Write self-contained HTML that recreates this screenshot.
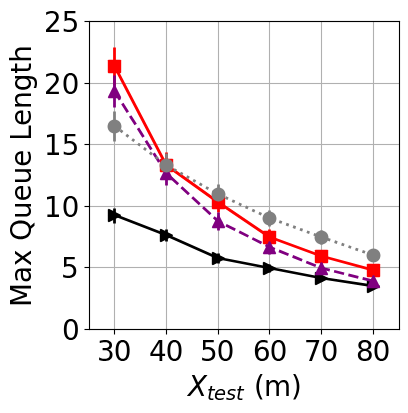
<!DOCTYPE html>
<html lang="en">
<head>
<meta charset="utf-8">
<title>Max Queue Length vs X_test (m)</title>
<style>
html,body{margin:0;padding:0;background:#fff;overflow:hidden;font-family:"Liberation Sans",sans-serif}
svg{display:block}
.sr{position:absolute;width:1px;height:1px;margin:-1px;padding:0;border:0;overflow:hidden;clip:rect(0 0 0 0);clip-path:inset(50%);white-space:nowrap}
</style>
</head>
<body>
<svg width="408" height="413" viewBox="0 0 408 413" role="img" aria-labelledby="ct cd">
<title id="ct">Max Queue Length versus X_test (m)</title>
<desc id="cd">Line chart with error bars. X axis: X_test (m), ticks 30, 40, 50, 60, 70, 80. Y axis: Max Queue Length, ticks 0, 5, 10, 15, 20, 25. Four series: red solid line with square markers, purple dashed line with up-triangle markers, gray dotted line with circle markers, black solid line with right-triangle markers. All series decrease as X_test increases.</desc>
<rect width="408" height="413" fill="#fff"/>
<g><rect x="113.944" y="21.5" width="1.111" height="308" fill="#b0b0b0"/><rect x="165.944" y="21.5" width="1.111" height="308" fill="#b0b0b0"/><rect x="217.944" y="21.5" width="1.111" height="308" fill="#b0b0b0"/><rect x="268.944" y="21.5" width="1.111" height="308" fill="#b0b0b0"/><rect x="320.944" y="21.5" width="1.111" height="308" fill="#b0b0b0"/><rect x="372.944" y="21.5" width="1.111" height="308" fill="#b0b0b0"/></g>
<g><rect x="89.5" y="328.944" width="310" height="1.111" fill="#b0b0b0"/><rect x="89.5" y="266.944" width="310" height="1.111" fill="#b0b0b0"/><rect x="89.5" y="205.944" width="310" height="1.111" fill="#b0b0b0"/><rect x="89.5" y="143.944" width="310" height="1.111" fill="#b0b0b0"/><rect x="89.5" y="82.944" width="310" height="1.111" fill="#b0b0b0"/><rect x="89.5" y="20.944" width="310" height="1.111" fill="#b0b0b0"/></g>
<g><rect x="113.944" y="329.5" width="1.111" height="5" fill="#000"/><rect x="165.944" y="329.5" width="1.111" height="5" fill="#000"/><rect x="217.944" y="329.5" width="1.111" height="5" fill="#000"/><rect x="268.944" y="329.5" width="1.111" height="5" fill="#000"/><rect x="320.944" y="329.5" width="1.111" height="5" fill="#000"/><rect x="372.944" y="329.5" width="1.111" height="5" fill="#000"/><rect x="84.5" y="328.944" width="5" height="1.111" fill="#000"/><rect x="84.5" y="266.944" width="5" height="1.111" fill="#000"/><rect x="84.5" y="205.944" width="5" height="1.111" fill="#000"/><rect x="84.5" y="143.944" width="5" height="1.111" fill="#000"/><rect x="84.5" y="82.944" width="5" height="1.111" fill="#000"/><rect x="84.5" y="20.944" width="5" height="1.111" fill="#000"/></g>
<path id="t_x30" d="M108.3 349.69L108.68 349.78L109.05 349.89L109.4 350.02L109.73 350.17L110.05 350.34L110.35 350.52L110.63 350.72L110.9 350.94L111.14 351.18L111.38 351.44L111.59 351.71L111.78 351.99L111.95 352.29L112.09 352.6L112.22 352.92L112.32 353.26L112.4 353.6L112.46 353.96L112.49 354.33L112.5 354.72L112.48 355.31L112.42 355.86L112.31 356.4L112.17 356.9L111.98 357.38L111.75 357.83L111.48 358.25L111.17 358.65L110.82 359.02L110.42 359.36L109.99 359.67L109.53 359.95L109.03 360.2L108.49 360.41L107.92 360.59L107.32 360.74L106.68 360.85L106 360.93L105.29 360.98L104.55 361L104.29 361L104.04 360.99L103.78 360.98L103.52 360.96L103.26 360.94L102.99 360.92L102.73 360.89L102.46 360.85L102.19 360.81L101.92 360.77L101.65 360.72L101.38 360.66L101.1 360.6L100.82 360.54L100.54 360.47L100.26 360.39L99.98 360.31L99.7 360.23L99.41 360.14L99.12 360.05L99.12 357.33L99.36 357.47L99.59 357.61L99.83 357.74L100.07 357.87L100.32 357.98L100.57 358.09L100.83 358.19L101.09 358.29L101.36 358.37L101.62 358.45L101.9 358.52L102.17 358.59L102.45 358.64L102.73 358.69L103.02 358.73L103.3 358.77L103.59 358.79L103.88 358.81L104.17 358.82L104.47 358.83L104.97 358.82L105.45 358.78L105.9 358.73L106.33 358.65L106.74 358.55L107.12 358.42L107.47 358.28L107.8 358.11L108.11 357.92L108.39 357.7L108.65 357.47L108.88 357.21L109.08 356.93L109.26 356.63L109.41 356.31L109.53 355.97L109.63 355.62L109.7 355.24L109.74 354.84L109.75 354.42L109.74 354.03L109.7 353.66L109.64 353.3L109.55 352.96L109.43 352.64L109.29 352.34L109.13 352.05L108.94 351.78L108.72 351.53L108.48 351.3L108.22 351.08L107.94 350.89L107.64 350.72L107.32 350.58L106.98 350.45L106.62 350.35L106.24 350.27L105.84 350.22L105.42 350.18L104.98 350.17L102.62 350.17L102.62 348L105.09 348L105.49 347.99L105.86 347.97L106.22 347.93L106.55 347.88L106.87 347.82L107.17 347.74L107.45 347.64L107.71 347.53L107.95 347.41L108.17 347.27L108.38 347.11L108.56 346.95L108.72 346.77L108.86 346.57L108.98 346.37L109.08 346.15L109.15 345.92L109.21 345.67L109.24 345.41L109.25 345.14L109.24 344.86L109.21 344.59L109.15 344.34L109.07 344.1L108.97 343.87L108.85 343.66L108.71 343.46L108.54 343.27L108.35 343.1L108.14 342.94L107.91 342.79L107.66 342.66L107.4 342.55L107.11 342.45L106.8 342.36L106.48 342.29L106.13 342.24L105.77 342.2L105.39 342.18L104.98 342.17L104.76 342.17L104.53 342.18L104.29 342.19L104.06 342.21L103.82 342.23L103.57 342.26L103.33 342.29L103.07 342.32L102.82 342.36L102.56 342.41L102.3 342.45L102.04 342.5L101.77 342.56L101.5 342.62L101.21 342.69L100.93 342.76L100.64 342.83L100.34 342.92L100.04 343L99.73 343.09L99.73 340.81L100.04 340.73L100.35 340.66L100.65 340.59L100.95 340.52L101.25 340.46L101.54 340.4L101.82 340.34L102.1 340.29L102.38 340.25L102.66 340.2L102.93 340.16L103.2 340.13L103.47 340.1L103.73 340.07L103.99 340.05L104.24 340.03L104.5 340.02L104.75 340.01L104.99 340L105.23 340L105.85 340.01L106.43 340.06L106.99 340.13L107.52 340.23L108.03 340.36L108.51 340.51L108.97 340.7L109.39 340.91L109.8 341.15L110.17 341.42L110.52 341.71L110.83 342.03L111.1 342.36L111.34 342.71L111.54 343.08L111.71 343.48L111.84 343.89L111.93 344.32L111.98 344.78L112 345.25L111.99 345.58L111.96 345.9L111.91 346.21L111.84 346.5L111.76 346.79L111.65 347.07L111.53 347.34L111.38 347.6L111.22 347.84L111.03 348.08L110.83 348.3L110.62 348.51L110.38 348.71L110.14 348.89L109.87 349.06L109.59 349.21L109.29 349.35L108.98 349.48L108.64 349.59L108.3 349.69ZM122.62 342.17L122.21 342.19L121.82 342.26L121.45 342.36L121.09 342.5L120.77 342.69L120.46 342.92L120.17 343.19L119.91 343.5L119.66 343.86L119.44 344.25L119.24 344.69L119.06 345.17L118.9 345.69L118.76 346.25L118.64 346.85L118.55 347.5L118.47 348.19L118.42 348.92L118.39 349.69L118.38 350.5L118.39 351.31L118.42 352.09L118.47 352.81L118.55 353.5L118.64 354.15L118.76 354.75L118.9 355.31L119.06 355.84L119.24 356.31L119.44 356.75L119.66 357.14L119.91 357.5L120.17 357.81L120.46 358.08L120.77 358.31L121.09 358.5L121.45 358.64L121.82 358.75L122.21 358.81L122.62 358.83L123.04 358.81L123.43 358.75L123.8 358.64L124.16 358.5L124.48 358.31L124.79 358.08L125.08 357.81L125.34 357.5L125.59 357.14L125.81 356.75L126.01 356.31L126.2 355.84L126.35 355.31L126.49 354.75L126.61 354.15L126.7 353.5L126.78 352.81L126.83 352.09L126.86 351.31L126.88 350.5L126.86 349.69L126.83 348.92L126.78 348.19L126.7 347.5L126.61 346.85L126.49 346.25L126.35 345.69L126.19 345.17L126.01 344.69L125.81 344.25L125.59 343.86L125.35 343.5L125.08 343.19L124.79 342.92L124.48 342.69L124.16 342.5L123.8 342.36L123.43 342.25L123.04 342.19L122.62 342.17ZM122.62 340L123.29 340.03L123.92 340.11L124.52 340.24L125.09 340.43L125.63 340.67L126.13 340.97L126.61 341.32L127.05 341.72L127.45 342.18L127.83 342.69L128.17 343.25L128.48 343.86L128.74 344.52L128.98 345.23L129.18 345.98L129.34 346.79L129.46 347.64L129.55 348.55L129.61 349.5L129.62 350.5L129.61 351.5L129.55 352.45L129.46 353.36L129.34 354.21L129.18 355.02L128.98 355.77L128.74 356.48L128.48 357.14L128.17 357.75L127.83 358.31L127.45 358.82L127.05 359.28L126.61 359.68L126.13 360.03L125.63 360.33L125.09 360.57L124.52 360.76L123.92 360.89L123.29 360.97L122.62 361L121.96 360.97L121.33 360.89L120.73 360.76L120.16 360.57L119.62 360.33L119.12 360.03L118.64 359.68L118.21 359.28L117.8 358.82L117.42 358.31L117.08 357.75L116.78 357.14L116.51 356.48L116.27 355.77L116.07 355.02L115.91 354.21L115.79 353.36L115.7 352.45L115.64 351.5L115.62 350.5L115.64 349.5L115.7 348.55L115.79 347.64L115.91 346.79L116.07 345.98L116.27 345.23L116.51 344.52L116.78 343.86L117.08 343.25L117.42 342.69L117.8 342.18L118.21 341.72L118.64 341.32L119.12 340.97L119.62 340.67L120.16 340.43L120.73 340.24L121.33 340.11L121.96 340.03L122.62 340Z" fill="#000"/>
<path id="t_x40" d="M159.5 342.47L152.59 353.66L159.5 353.66L159.5 342.47ZM158.78 340L162.25 340L162.25 353.66L165.12 353.66L165.12 356L162.25 356L162.25 361L159.5 361L159.5 356L150.38 356L150.38 353.28L158.78 340ZM174.5 342.17L174.09 342.19L173.69 342.26L173.32 342.36L172.97 342.5L172.64 342.69L172.33 342.92L172.05 343.19L171.78 343.5L171.54 343.86L171.31 344.25L171.11 344.69L170.93 345.17L170.77 345.69L170.63 346.25L170.52 346.85L170.42 347.5L170.35 348.19L170.29 348.92L170.26 349.69L170.25 350.5L170.26 351.31L170.29 352.09L170.35 352.81L170.42 353.5L170.52 354.15L170.63 354.75L170.77 355.31L170.93 355.84L171.11 356.31L171.31 356.75L171.54 357.14L171.78 357.5L172.05 357.81L172.33 358.08L172.64 358.31L172.97 358.5L173.32 358.64L173.69 358.75L174.09 358.81L174.5 358.83L174.91 358.81L175.31 358.75L175.68 358.64L176.03 358.5L176.36 358.31L176.67 358.08L176.95 357.81L177.22 357.5L177.46 357.14L177.69 356.75L177.89 356.31L178.07 355.84L178.23 355.31L178.37 354.75L178.48 354.15L178.58 353.5L178.65 352.81L178.71 352.09L178.74 351.31L178.75 350.5L178.74 349.69L178.71 348.92L178.65 348.19L178.58 347.5L178.48 346.85L178.37 346.25L178.23 345.69L178.07 345.17L177.89 344.69L177.69 344.25L177.46 343.86L177.22 343.5L176.95 343.19L176.67 342.92L176.36 342.69L176.03 342.5L175.68 342.36L175.31 342.25L174.91 342.19L174.5 342.17ZM174.5 340L175.17 340.03L175.8 340.11L176.4 340.24L176.97 340.43L177.5 340.67L178.01 340.97L178.48 341.32L178.92 341.72L179.33 342.18L179.7 342.69L180.04 343.25L180.35 343.86L180.62 344.52L180.85 345.23L181.05 345.98L181.21 346.79L181.34 347.64L181.43 348.55L181.48 349.5L181.5 350.5L181.48 351.5L181.43 352.45L181.34 353.36L181.21 354.21L181.05 355.02L180.85 355.77L180.62 356.48L180.35 357.14L180.04 357.75L179.7 358.31L179.33 358.82L178.92 359.28L178.48 359.68L178.01 360.03L177.5 360.33L176.97 360.57L176.4 360.76L175.8 360.89L175.17 360.97L174.5 361L173.83 360.97L173.2 360.89L172.6 360.76L172.03 360.57L171.5 360.33L170.99 360.03L170.52 359.68L170.08 359.28L169.67 358.82L169.3 358.31L168.96 357.75L168.65 357.14L168.38 356.48L168.15 355.77L167.95 355.02L167.79 354.21L167.66 353.36L167.57 352.45L167.52 351.5L167.5 350.5L167.52 349.5L167.57 348.55L167.66 347.64L167.79 346.79L167.95 345.98L168.15 345.23L168.38 344.52L168.65 343.86L168.96 343.25L169.3 342.69L169.67 342.18L170.08 341.72L170.52 341.32L170.99 340.97L171.5 340.67L172.03 340.43L172.6 340.24L173.2 340.11L173.83 340.03L174.5 340Z" fill="#000"/>
<path id="t_x50" d="M203 340L213.75 340L213.75 342.17L205.5 342.17L205.5 347.39L205.62 347.35L205.74 347.32L205.86 347.29L205.98 347.26L206.09 347.23L206.21 347.2L206.33 347.17L206.45 347.15L206.57 347.13L206.69 347.11L206.81 347.09L206.93 347.07L207.05 347.05L207.17 347.04L207.29 347.03L207.41 347.02L207.53 347.01L207.65 347L207.77 347L207.89 347L208.55 347.02L209.19 347.08L209.8 347.17L210.38 347.3L210.93 347.47L211.45 347.68L211.95 347.93L212.42 348.21L212.85 348.53L213.27 348.89L213.64 349.28L213.98 349.7L214.28 350.14L214.54 350.62L214.75 351.11L214.93 351.64L215.07 352.19L215.17 352.77L215.23 353.37L215.25 354L215.23 354.65L215.17 355.27L215.07 355.86L214.92 356.43L214.74 356.96L214.51 357.46L214.25 357.93L213.94 358.38L213.59 358.79L213.2 359.17L212.78 359.52L212.32 359.83L211.83 360.1L211.31 360.34L210.75 360.54L210.16 360.71L209.54 360.84L208.88 360.93L208.19 360.98L207.47 361L207.21 361L206.95 360.99L206.7 360.98L206.44 360.97L206.18 360.95L205.91 360.93L205.65 360.9L205.39 360.87L205.12 360.84L204.86 360.8L204.6 360.75L204.33 360.71L204.06 360.66L203.79 360.6L203.52 360.54L203.25 360.48L202.97 360.41L202.69 360.34L202.41 360.27L202.12 360.19L202.12 357.44L202.37 357.57L202.62 357.7L202.86 357.83L203.11 357.94L203.36 358.05L203.62 358.15L203.87 358.25L204.12 358.33L204.38 358.41L204.64 358.48L204.9 358.55L205.17 358.61L205.44 358.66L205.71 358.7L205.99 358.74L206.27 358.77L206.55 358.8L206.83 358.81L207.12 358.82L207.41 358.83L207.87 358.82L208.31 358.78L208.73 358.71L209.13 358.62L209.52 358.5L209.88 358.36L210.22 358.19L210.54 358L210.84 357.78L211.12 357.53L211.39 357.26L211.62 356.98L211.83 356.67L212 356.35L212.16 356L212.28 355.64L212.38 355.26L212.44 354.87L212.49 354.45L212.5 354.02L212.49 353.58L212.45 353.15L212.38 352.75L212.28 352.37L212.16 352L212.01 351.66L211.83 351.33L211.62 351.03L211.39 350.74L211.12 350.47L210.84 350.22L210.54 350L210.22 349.81L209.88 349.64L209.52 349.5L209.14 349.38L208.74 349.29L208.32 349.22L207.88 349.18L207.42 349.17L207.2 349.17L206.98 349.18L206.77 349.2L206.55 349.21L206.33 349.24L206.11 349.27L205.89 349.3L205.67 349.34L205.45 349.39L205.23 349.44L205.02 349.49L204.8 349.55L204.57 349.61L204.35 349.69L204.13 349.76L203.91 349.84L203.68 349.93L203.45 350.03L203.23 350.13L203 350.23L203 340ZM225.5 342.17L225.09 342.19L224.69 342.26L224.32 342.36L223.97 342.5L223.64 342.69L223.33 342.92L223.05 343.19L222.78 343.5L222.54 343.86L222.31 344.25L222.11 344.69L221.93 345.17L221.77 345.69L221.63 346.25L221.52 346.85L221.42 347.5L221.35 348.19L221.29 348.92L221.26 349.69L221.25 350.5L221.26 351.31L221.29 352.09L221.35 352.81L221.42 353.5L221.52 354.15L221.63 354.75L221.77 355.31L221.93 355.84L222.11 356.31L222.31 356.75L222.54 357.14L222.78 357.5L223.05 357.81L223.33 358.08L223.64 358.31L223.97 358.5L224.32 358.64L224.69 358.75L225.09 358.81L225.5 358.83L225.91 358.81L226.31 358.75L226.68 358.64L227.03 358.5L227.36 358.31L227.67 358.08L227.95 357.81L228.22 357.5L228.46 357.14L228.69 356.75L228.89 356.31L229.07 355.84L229.23 355.31L229.37 354.75L229.48 354.15L229.58 353.5L229.65 352.81L229.71 352.09L229.74 351.31L229.75 350.5L229.74 349.69L229.71 348.92L229.65 348.19L229.58 347.5L229.48 346.85L229.37 346.25L229.23 345.69L229.07 345.17L228.89 344.69L228.69 344.25L228.46 343.86L228.22 343.5L227.95 343.19L227.67 342.92L227.36 342.69L227.03 342.5L226.68 342.36L226.31 342.25L225.91 342.19L225.5 342.17ZM225.5 340L226.17 340.03L226.8 340.11L227.4 340.24L227.97 340.43L228.5 340.67L229.01 340.97L229.48 341.32L229.92 341.72L230.33 342.18L230.7 342.69L231.04 343.25L231.35 343.86L231.62 344.52L231.85 345.23L232.05 345.98L232.21 346.79L232.34 347.64L232.43 348.55L232.48 349.5L232.5 350.5L232.48 351.5L232.43 352.45L232.34 353.36L232.21 354.21L232.05 355.02L231.85 355.77L231.62 356.48L231.35 357.14L231.04 357.75L230.7 358.31L230.33 358.82L229.92 359.28L229.48 359.68L229.01 360.03L228.5 360.33L227.97 360.57L227.4 360.76L226.8 360.89L226.17 360.97L225.5 361L224.83 360.97L224.2 360.89L223.6 360.76L223.03 360.57L222.5 360.33L221.99 360.03L221.52 359.68L221.08 359.28L220.67 358.82L220.3 358.31L219.96 357.75L219.65 357.14L219.38 356.48L219.15 355.77L218.95 355.02L218.79 354.21L218.66 353.36L218.57 352.45L218.52 351.5L218.5 350.5L218.52 349.5L218.57 348.55L218.66 347.64L218.79 346.79L218.95 345.98L219.15 345.23L219.38 344.52L219.65 343.86L219.96 343.25L220.3 342.69L220.67 342.18L221.08 341.72L221.52 341.32L221.99 340.97L222.5 340.67L223.03 340.43L223.6 340.24L224.2 340.11L224.83 340.03L225.5 340Z" fill="#000"/>
<path id="t_x60" d="M262.14 349L261.78 349.01L261.43 349.05L261.1 349.12L260.79 349.21L260.49 349.33L260.2 349.47L259.93 349.64L259.68 349.84L259.44 350.06L259.22 350.31L259.02 350.58L258.84 350.88L258.68 351.19L258.54 351.52L258.42 351.87L258.33 352.24L258.25 352.63L258.2 353.04L258.17 353.47L258.16 353.92L258.17 354.37L258.2 354.79L258.25 355.2L258.33 355.58L258.42 355.95L258.54 356.3L258.68 356.63L258.84 356.95L259.02 357.24L259.22 357.52L259.44 357.77L259.68 357.99L259.93 358.18L260.2 358.36L260.49 358.5L260.79 358.62L261.1 358.71L261.43 358.78L261.78 358.81L262.14 358.83L262.5 358.82L262.85 358.78L263.18 358.71L263.49 358.62L263.79 358.5L264.07 358.36L264.34 358.19L264.59 357.99L264.83 357.76L265.05 357.52L265.25 357.24L265.44 356.95L265.6 356.63L265.74 356.3L265.86 355.95L265.95 355.58L266.03 355.2L266.08 354.79L266.11 354.37L266.12 353.92L266.11 353.47L266.08 353.04L266.03 352.63L265.95 352.24L265.86 351.87L265.74 351.52L265.6 351.19L265.44 350.88L265.25 350.58L265.05 350.31L264.83 350.06L264.59 349.84L264.34 349.64L264.07 349.47L263.79 349.33L263.49 349.21L263.18 349.12L262.85 349.05L262.5 349.01L262.14 349ZM267.56 340.77L267.56 343.12L267.35 343.03L267.14 342.95L266.93 342.86L266.72 342.79L266.51 342.71L266.3 342.65L266.09 342.58L265.88 342.52L265.67 342.47L265.45 342.42L265.24 342.37L265.03 342.33L264.82 342.29L264.62 342.26L264.41 342.23L264.2 342.21L263.99 342.19L263.78 342.18L263.57 342.17L263.36 342.17L262.83 342.19L262.32 342.24L261.84 342.33L261.38 342.45L260.95 342.61L260.55 342.81L260.17 343.04L259.81 343.3L259.49 343.6L259.19 343.94L258.91 344.31L258.67 344.72L258.45 345.16L258.27 345.64L258.11 346.16L257.98 346.71L257.88 347.3L257.81 347.92L257.76 348.58L257.75 349.28L257.91 349.05L258.08 348.83L258.26 348.62L258.45 348.42L258.64 348.23L258.85 348.06L259.06 347.89L259.27 347.74L259.5 347.6L259.73 347.47L259.97 347.35L260.22 347.24L260.47 347.14L260.72 347.06L260.98 346.99L261.25 346.93L261.52 346.89L261.79 346.85L262.07 346.83L262.36 346.83L262.95 346.85L263.52 346.9L264.05 347L264.57 347.13L265.06 347.3L265.52 347.51L265.96 347.76L266.37 348.05L266.76 348.37L267.12 348.73L267.46 349.13L267.76 349.55L268.02 350L268.25 350.48L268.44 350.98L268.6 351.52L268.72 352.08L268.81 352.66L268.86 353.28L268.88 353.92L268.86 354.55L268.8 355.15L268.71 355.73L268.58 356.28L268.41 356.81L268.21 357.31L267.97 357.79L267.7 358.24L267.38 358.66L267.03 359.06L266.65 359.43L266.24 359.76L265.81 360.05L265.36 360.3L264.88 360.52L264.37 360.69L263.85 360.83L263.29 360.92L262.71 360.98L262.11 361L261.42 360.97L260.77 360.89L260.15 360.76L259.56 360.57L259.01 360.33L258.49 360.03L258 359.68L257.54 359.28L257.12 358.82L256.73 358.31L256.38 357.75L256.07 357.14L255.79 356.48L255.54 355.77L255.34 355.02L255.17 354.21L255.04 353.36L254.95 352.45L254.89 351.5L254.88 350.5L254.9 349.56L254.97 348.66L255.08 347.8L255.24 346.98L255.45 346.19L255.7 345.45L255.99 344.74L256.34 344.08L256.72 343.45L257.16 342.86L257.63 342.32L258.13 341.83L258.67 341.4L259.23 341.03L259.83 340.71L260.46 340.46L261.12 340.26L261.81 340.11L262.53 340.03L263.28 340L263.49 340L263.69 340.01L263.9 340.02L264.11 340.03L264.32 340.05L264.52 340.07L264.73 340.09L264.94 340.12L265.15 340.15L265.36 340.19L265.57 340.23L265.79 340.27L266 340.32L266.22 340.37L266.44 340.43L266.66 340.49L266.89 340.55L267.11 340.62L267.34 340.69L267.56 340.77ZM278.5 342.17L278.09 342.19L277.69 342.26L277.32 342.36L276.97 342.5L276.64 342.69L276.33 342.92L276.05 343.19L275.78 343.5L275.54 343.86L275.31 344.25L275.11 344.69L274.93 345.17L274.77 345.69L274.63 346.25L274.52 346.85L274.42 347.5L274.35 348.19L274.29 348.92L274.26 349.69L274.25 350.5L274.26 351.31L274.29 352.09L274.35 352.81L274.42 353.5L274.52 354.15L274.63 354.75L274.77 355.31L274.93 355.84L275.11 356.31L275.31 356.75L275.54 357.14L275.78 357.5L276.05 357.81L276.33 358.08L276.64 358.31L276.97 358.5L277.32 358.64L277.69 358.75L278.09 358.81L278.5 358.83L278.91 358.81L279.31 358.75L279.68 358.64L280.03 358.5L280.36 358.31L280.67 358.08L280.95 357.81L281.22 357.5L281.46 357.14L281.69 356.75L281.89 356.31L282.07 355.84L282.23 355.31L282.37 354.75L282.48 354.15L282.58 353.5L282.65 352.81L282.71 352.09L282.74 351.31L282.75 350.5L282.74 349.69L282.71 348.92L282.65 348.19L282.58 347.5L282.48 346.85L282.37 346.25L282.23 345.69L282.07 345.17L281.89 344.69L281.69 344.25L281.46 343.86L281.22 343.5L280.95 343.19L280.67 342.92L280.36 342.69L280.03 342.5L279.68 342.36L279.31 342.25L278.91 342.19L278.5 342.17ZM278.5 340L279.17 340.03L279.8 340.11L280.4 340.24L280.97 340.43L281.5 340.67L282.01 340.97L282.48 341.32L282.92 341.72L283.33 342.18L283.7 342.69L284.04 343.25L284.35 343.86L284.62 344.52L284.85 345.23L285.05 345.98L285.21 346.79L285.34 347.64L285.43 348.55L285.48 349.5L285.5 350.5L285.48 351.5L285.43 352.45L285.34 353.36L285.21 354.21L285.05 355.02L284.85 355.77L284.62 356.48L284.35 357.14L284.04 357.75L283.7 358.31L283.33 358.82L282.92 359.28L282.48 359.68L282.01 360.03L281.5 360.33L280.97 360.57L280.4 360.76L279.8 360.89L279.17 360.97L278.5 361L277.83 360.97L277.2 360.89L276.6 360.76L276.03 360.57L275.5 360.33L274.99 360.03L274.52 359.68L274.08 359.28L273.67 358.82L273.3 358.31L272.96 357.75L272.65 357.14L272.38 356.48L272.15 355.77L271.95 355.02L271.79 354.21L271.66 353.36L271.57 352.45L271.52 351.5L271.5 350.5L271.52 349.5L271.57 348.55L271.66 347.64L271.79 346.79L271.95 345.98L272.15 345.23L272.38 344.52L272.65 343.86L272.96 343.25L273.3 342.69L273.67 342.18L274.08 341.72L274.52 341.32L274.99 340.97L275.5 340.67L276.03 340.43L276.6 340.24L277.2 340.11L277.83 340.03L278.5 340Z" fill="#000"/>
<path id="t_x70" d="M306.25 340L319.25 340L319.25 341.09L311.91 361L309.05 361L315.95 342.17L306.25 342.17L306.25 340ZM329.5 342.17L329.09 342.19L328.69 342.26L328.32 342.36L327.97 342.5L327.64 342.69L327.33 342.92L327.05 343.19L326.78 343.5L326.54 343.86L326.31 344.25L326.11 344.69L325.93 345.17L325.77 345.69L325.63 346.25L325.52 346.85L325.42 347.5L325.35 348.19L325.29 348.92L325.26 349.69L325.25 350.5L325.26 351.31L325.29 352.09L325.35 352.81L325.42 353.5L325.52 354.15L325.63 354.75L325.77 355.31L325.93 355.84L326.11 356.31L326.31 356.75L326.54 357.14L326.78 357.5L327.05 357.81L327.33 358.08L327.64 358.31L327.97 358.5L328.32 358.64L328.69 358.75L329.09 358.81L329.5 358.83L329.91 358.81L330.31 358.75L330.68 358.64L331.03 358.5L331.36 358.31L331.67 358.08L331.95 357.81L332.22 357.5L332.46 357.14L332.69 356.75L332.89 356.31L333.07 355.84L333.23 355.31L333.37 354.75L333.48 354.15L333.58 353.5L333.65 352.81L333.71 352.09L333.74 351.31L333.75 350.5L333.74 349.69L333.71 348.92L333.65 348.19L333.58 347.5L333.48 346.85L333.37 346.25L333.23 345.69L333.07 345.17L332.89 344.69L332.69 344.25L332.46 343.86L332.22 343.5L331.95 343.19L331.67 342.92L331.36 342.69L331.03 342.5L330.68 342.36L330.31 342.25L329.91 342.19L329.5 342.17ZM329.5 340L330.17 340.03L330.8 340.11L331.4 340.24L331.97 340.43L332.5 340.67L333.01 340.97L333.48 341.32L333.92 341.72L334.33 342.18L334.7 342.69L335.04 343.25L335.35 343.86L335.62 344.52L335.85 345.23L336.05 345.98L336.21 346.79L336.34 347.64L336.43 348.55L336.48 349.5L336.5 350.5L336.48 351.5L336.43 352.45L336.34 353.36L336.21 354.21L336.05 355.02L335.85 355.77L335.62 356.48L335.35 357.14L335.04 357.75L334.7 358.31L334.33 358.82L333.92 359.28L333.48 359.68L333.01 360.03L332.5 360.33L331.97 360.57L331.4 360.76L330.8 360.89L330.17 360.97L329.5 361L328.83 360.97L328.2 360.89L327.6 360.76L327.03 360.57L326.5 360.33L325.99 360.03L325.52 359.68L325.08 359.28L324.67 358.82L324.3 358.31L323.96 357.75L323.65 357.14L323.38 356.48L323.15 355.77L322.95 355.02L322.79 354.21L322.66 353.36L322.57 352.45L322.52 351.5L322.5 350.5L322.52 349.5L322.57 348.55L322.66 347.64L322.79 346.79L322.95 345.98L323.15 345.23L323.38 344.52L323.65 343.86L323.96 343.25L324.3 342.69L324.67 342.18L325.08 341.72L325.52 341.32L325.99 340.97L326.5 340.67L327.03 340.43L327.6 340.24L328.2 340.11L328.83 340.03L329.5 340Z" fill="#000"/>
<path id="t_x80" d="M364.81 351L364.43 351.01L364.06 351.04L363.72 351.09L363.38 351.17L363.07 351.26L362.77 351.38L362.48 351.51L362.22 351.67L361.97 351.85L361.73 352.05L361.52 352.26L361.34 352.5L361.17 352.74L361.02 353.01L360.9 353.29L360.8 353.58L360.72 353.89L360.67 354.21L360.64 354.55L360.62 354.91L360.64 355.27L360.67 355.61L360.72 355.94L360.8 356.25L360.9 356.55L361.02 356.83L361.17 357.1L361.34 357.35L361.52 357.58L361.73 357.8L361.97 357.99L362.22 358.17L362.48 358.32L362.77 358.46L363.07 358.57L363.38 358.66L363.72 358.74L364.06 358.79L364.43 358.82L364.81 358.83L365.19 358.82L365.56 358.79L365.9 358.73L366.23 358.66L366.55 358.57L366.85 358.45L367.13 358.32L367.39 358.16L367.64 357.98L367.88 357.78L368.09 357.56L368.28 357.33L368.45 357.08L368.6 356.82L368.72 356.54L368.82 356.24L368.9 355.93L368.96 355.61L368.99 355.26L369 354.91L368.99 354.55L368.96 354.21L368.9 353.89L368.82 353.58L368.72 353.29L368.6 353.01L368.45 352.74L368.28 352.5L368.09 352.26L367.88 352.05L367.64 351.85L367.4 351.67L367.13 351.51L366.85 351.38L366.55 351.26L366.24 351.17L365.91 351.09L365.56 351.04L365.19 351.01L364.81 351ZM362.11 349.83L361.76 349.73L361.43 349.62L361.12 349.5L360.82 349.36L360.54 349.2L360.27 349.03L360.02 348.84L359.78 348.64L359.56 348.42L359.36 348.19L359.17 347.94L359.01 347.68L358.86 347.41L358.73 347.13L358.62 346.84L358.53 346.55L358.46 346.24L358.41 345.92L358.38 345.59L358.38 345.25L358.39 344.77L358.44 344.32L358.53 343.88L358.65 343.46L358.8 343.07L358.99 342.7L359.22 342.34L359.48 342.01L359.77 341.7L360.09 341.41L360.45 341.14L360.83 340.9L361.24 340.69L361.67 340.51L362.13 340.35L362.62 340.23L363.13 340.13L363.66 340.06L364.23 340.01L364.81 340L365.4 340.01L365.97 340.06L366.5 340.13L367.01 340.22L367.5 340.35L367.96 340.51L368.39 340.69L368.8 340.9L369.18 341.14L369.53 341.41L369.86 341.7L370.15 342.01L370.41 342.34L370.63 342.69L370.82 343.07L370.98 343.46L371.1 343.87L371.18 344.31L371.23 344.76L371.25 345.23L371.24 345.58L371.21 345.91L371.16 346.23L371.09 346.54L371 346.84L370.9 347.13L370.77 347.41L370.62 347.68L370.45 347.94L370.27 348.19L370.06 348.42L369.84 348.64L369.6 348.84L369.35 349.03L369.09 349.2L368.8 349.36L368.5 349.5L368.19 349.62L367.86 349.73L367.52 349.83L367.91 349.93L368.28 350.05L368.64 350.18L368.97 350.33L369.29 350.5L369.6 350.69L369.88 350.9L370.15 351.12L370.39 351.37L370.62 351.62L370.84 351.9L371.03 352.19L371.2 352.48L371.35 352.8L371.47 353.12L371.57 353.45L371.65 353.8L371.71 354.16L371.74 354.52L371.75 354.91L371.73 355.48L371.68 356.03L371.59 356.55L371.46 357.05L371.3 357.52L371.1 357.95L370.87 358.37L370.6 358.75L370.29 359.11L369.95 359.44L369.58 359.73L369.17 360L368.74 360.23L368.27 360.44L367.77 360.61L367.24 360.75L366.68 360.86L366.09 360.94L365.47 360.98L364.81 361L364.16 360.98L363.54 360.94L362.95 360.86L362.38 360.75L361.86 360.61L361.36 360.44L360.89 360.23L360.45 360L360.05 359.73L359.67 359.44L359.33 359.11L359.03 358.75L358.76 358.37L358.52 357.95L358.32 357.52L358.16 357.05L358.04 356.55L357.95 356.03L357.89 355.48L357.88 354.91L357.89 354.53L357.92 354.16L357.98 353.81L358.06 353.46L358.16 353.13L358.28 352.81L358.43 352.5L358.6 352.2L358.79 351.92L359 351.64L359.23 351.38L359.48 351.13L359.75 350.91L360.04 350.7L360.34 350.51L360.66 350.34L361 350.18L361.35 350.05L361.72 349.93L362.11 349.83ZM361.12 345.5L361.13 345.81L361.16 346.1L361.21 346.38L361.28 346.64L361.37 346.89L361.47 347.13L361.6 347.36L361.75 347.57L361.91 347.77L362.09 347.95L362.3 348.12L362.51 348.27L362.75 348.4L362.99 348.51L363.26 348.61L363.54 348.69L363.83 348.75L364.14 348.79L364.47 348.82L364.81 348.83L365.15 348.82L365.48 348.79L365.78 348.75L366.08 348.69L366.36 348.61L366.62 348.51L366.87 348.4L367.1 348.27L367.31 348.12L367.52 347.95L367.7 347.77L367.87 347.57L368.02 347.36L368.15 347.13L368.25 346.89L368.34 346.64L368.41 346.38L368.46 346.1L368.49 345.81L368.5 345.5L368.49 345.19L368.46 344.9L368.41 344.62L368.34 344.36L368.25 344.11L368.15 343.87L368.02 343.65L367.87 343.44L367.7 343.24L367.52 343.06L367.31 342.89L367.1 342.74L366.87 342.61L366.62 342.49L366.36 342.39L366.08 342.31L365.78 342.25L365.48 342.21L365.15 342.18L364.81 342.17L364.47 342.18L364.14 342.21L363.83 342.25L363.54 342.31L363.26 342.39L362.99 342.49L362.75 342.61L362.51 342.74L362.3 342.89L362.09 343.06L361.91 343.24L361.75 343.44L361.6 343.65L361.47 343.87L361.37 344.11L361.28 344.36L361.21 344.62L361.16 344.9L361.13 345.19L361.12 345.5ZM381.5 342.17L381.09 342.19L380.69 342.26L380.32 342.36L379.97 342.5L379.64 342.69L379.33 342.92L379.05 343.19L378.78 343.5L378.54 343.86L378.31 344.25L378.11 344.69L377.93 345.17L377.77 345.69L377.63 346.25L377.52 346.85L377.42 347.5L377.35 348.19L377.29 348.92L377.26 349.69L377.25 350.5L377.26 351.31L377.29 352.09L377.35 352.81L377.42 353.5L377.52 354.15L377.63 354.75L377.77 355.31L377.93 355.84L378.11 356.31L378.31 356.75L378.54 357.14L378.78 357.5L379.05 357.81L379.33 358.08L379.64 358.31L379.97 358.5L380.32 358.64L380.69 358.75L381.09 358.81L381.5 358.83L381.91 358.81L382.31 358.75L382.68 358.64L383.03 358.5L383.36 358.31L383.67 358.08L383.95 357.81L384.22 357.5L384.46 357.14L384.69 356.75L384.89 356.31L385.07 355.84L385.23 355.31L385.37 354.75L385.48 354.15L385.58 353.5L385.65 352.81L385.71 352.09L385.74 351.31L385.75 350.5L385.74 349.69L385.71 348.92L385.65 348.19L385.58 347.5L385.48 346.85L385.37 346.25L385.23 345.69L385.07 345.17L384.89 344.69L384.69 344.25L384.46 343.86L384.22 343.5L383.95 343.19L383.67 342.92L383.36 342.69L383.03 342.5L382.68 342.36L382.31 342.25L381.91 342.19L381.5 342.17ZM381.5 340L382.17 340.03L382.8 340.11L383.4 340.24L383.97 340.43L384.5 340.67L385.01 340.97L385.48 341.32L385.92 341.72L386.33 342.18L386.7 342.69L387.04 343.25L387.35 343.86L387.62 344.52L387.85 345.23L388.05 345.98L388.21 346.79L388.34 347.64L388.43 348.55L388.48 349.5L388.5 350.5L388.48 351.5L388.43 352.45L388.34 353.36L388.21 354.21L388.05 355.02L387.85 355.77L387.62 356.48L387.35 357.14L387.04 357.75L386.7 358.31L386.33 358.82L385.92 359.28L385.48 359.68L385.01 360.03L384.5 360.33L383.97 360.57L383.4 360.76L382.8 360.89L382.17 360.97L381.5 361L380.83 360.97L380.2 360.89L379.6 360.76L379.03 360.57L378.5 360.33L377.99 360.03L377.52 359.68L377.08 359.28L376.67 358.82L376.3 358.31L375.96 357.75L375.65 357.14L375.38 356.48L375.15 355.77L374.95 355.02L374.79 354.21L374.66 353.36L374.57 352.45L374.52 351.5L374.5 350.5L374.52 349.5L374.57 348.55L374.66 347.64L374.79 346.79L374.95 345.98L375.15 345.23L375.38 344.52L375.65 343.86L375.96 343.25L376.3 342.69L376.67 342.18L377.08 341.72L377.52 341.32L377.99 340.97L378.5 340.67L379.03 340.43L379.6 340.24L380.2 340.11L380.83 340.03L381.5 340Z" fill="#000"/>
<path id="t_y0" d="M70.88 321.17L70.46 321.19L70.07 321.26L69.7 321.36L69.34 321.5L69.02 321.69L68.71 321.92L68.42 322.19L68.16 322.5L67.91 322.86L67.69 323.25L67.49 323.69L67.31 324.17L67.15 324.69L67.01 325.25L66.89 325.85L66.8 326.5L66.72 327.19L66.67 327.92L66.64 328.69L66.62 329.5L66.64 330.31L66.67 331.09L66.72 331.81L66.8 332.5L66.89 333.15L67.01 333.75L67.15 334.31L67.31 334.84L67.49 335.31L67.69 335.75L67.91 336.14L68.16 336.5L68.42 336.81L68.71 337.08L69.02 337.31L69.34 337.5L69.7 337.64L70.07 337.75L70.46 337.81L70.88 337.83L71.29 337.81L71.68 337.75L72.05 337.64L72.41 337.5L72.73 337.31L73.04 337.08L73.33 336.81L73.59 336.5L73.84 336.14L74.06 335.75L74.26 335.31L74.45 334.84L74.6 334.31L74.74 333.75L74.86 333.15L74.95 332.5L75.03 331.81L75.08 331.09L75.11 330.31L75.12 329.5L75.11 328.69L75.08 327.92L75.03 327.19L74.95 326.5L74.86 325.85L74.74 325.25L74.6 324.69L74.44 324.17L74.26 323.69L74.06 323.25L73.84 322.86L73.59 322.5L73.33 322.19L73.04 321.92L72.73 321.69L72.41 321.5L72.05 321.36L71.68 321.25L71.29 321.19L70.88 321.17ZM70.88 319L71.54 319.03L72.17 319.11L72.77 319.24L73.34 319.43L73.88 319.67L74.38 319.97L74.86 320.32L75.3 320.72L75.7 321.18L76.08 321.69L76.42 322.25L76.73 322.86L76.99 323.52L77.23 324.23L77.43 324.98L77.59 325.79L77.71 326.64L77.8 327.55L77.86 328.5L77.88 329.5L77.86 330.5L77.8 331.45L77.71 332.36L77.59 333.21L77.43 334.02L77.23 334.77L76.99 335.48L76.73 336.14L76.42 336.75L76.08 337.31L75.7 337.82L75.3 338.28L74.86 338.68L74.38 339.03L73.88 339.33L73.34 339.57L72.77 339.76L72.17 339.89L71.54 339.97L70.88 340L70.21 339.97L69.58 339.89L68.98 339.76L68.41 339.57L67.87 339.33L67.37 339.03L66.89 338.68L66.45 338.28L66.05 337.82L65.67 337.31L65.33 336.75L65.03 336.14L64.76 335.48L64.52 334.77L64.32 334.02L64.16 333.21L64.04 332.36L63.95 331.45L63.89 330.5L63.88 329.5L63.89 328.5L63.95 327.55L64.04 326.64L64.16 325.79L64.32 324.98L64.52 324.23L64.76 323.52L65.03 322.86L65.33 322.25L65.67 321.69L66.05 321.18L66.46 320.72L66.89 320.32L67.37 319.97L67.87 319.67L68.41 319.43L68.98 319.24L69.58 319.11L70.21 319.03L70.88 319Z" fill="#000"/>
<path id="t_y5" d="M64 257L74.75 257L74.75 259.17L66.5 259.17L66.5 264.39L66.62 264.35L66.74 264.32L66.86 264.29L66.97 264.26L67.09 264.23L67.21 264.2L67.33 264.17L67.45 264.15L67.57 264.13L67.69 264.11L67.81 264.09L67.93 264.07L68.05 264.05L68.17 264.04L68.29 264.03L68.41 264.02L68.53 264.01L68.65 264L68.77 264L68.89 264L69.55 264.02L70.19 264.08L70.8 264.17L71.38 264.3L71.93 264.47L72.45 264.68L72.95 264.93L73.42 265.21L73.85 265.53L74.27 265.89L74.64 266.28L74.98 266.7L75.28 267.14L75.54 267.62L75.75 268.11L75.93 268.64L76.07 269.19L76.17 269.77L76.23 270.37L76.25 271L76.23 271.65L76.17 272.27L76.07 272.86L75.92 273.43L75.74 273.96L75.51 274.46L75.25 274.93L74.94 275.38L74.59 275.79L74.2 276.17L73.78 276.52L73.32 276.83L72.83 277.1L72.31 277.34L71.75 277.54L71.16 277.71L70.54 277.84L69.88 277.93L69.19 277.98L68.47 278L68.21 278L67.95 277.99L67.7 277.98L67.44 277.97L67.18 277.95L66.91 277.93L66.65 277.9L66.39 277.87L66.12 277.84L65.86 277.8L65.6 277.75L65.33 277.71L65.06 277.66L64.79 277.6L64.52 277.54L64.25 277.48L63.97 277.41L63.69 277.34L63.41 277.27L63.12 277.19L63.12 274.44L63.37 274.57L63.62 274.7L63.86 274.83L64.11 274.94L64.36 275.05L64.62 275.15L64.87 275.25L65.12 275.33L65.38 275.41L65.64 275.48L65.9 275.55L66.17 275.61L66.44 275.66L66.71 275.7L66.99 275.74L67.27 275.77L67.55 275.8L67.83 275.81L68.12 275.82L68.41 275.83L68.87 275.82L69.31 275.78L69.73 275.71L70.13 275.62L70.52 275.5L70.88 275.36L71.22 275.19L71.54 275L71.84 274.78L72.12 274.53L72.39 274.26L72.62 273.98L72.83 273.67L73.01 273.35L73.16 273L73.28 272.64L73.38 272.26L73.44 271.87L73.49 271.45L73.5 271.02L73.49 270.58L73.45 270.15L73.38 269.75L73.28 269.37L73.16 269L73 268.66L72.83 268.33L72.62 268.03L72.39 267.74L72.12 267.47L71.84 267.22L71.54 267L71.22 266.81L70.88 266.64L70.52 266.5L70.14 266.38L69.74 266.29L69.32 266.22L68.88 266.18L68.42 266.17L68.2 266.17L67.98 266.18L67.77 266.2L67.55 266.21L67.33 266.24L67.11 266.27L66.89 266.3L66.67 266.34L66.45 266.39L66.23 266.44L66.02 266.49L65.8 266.55L65.57 266.61L65.35 266.69L65.13 266.76L64.91 266.84L64.68 266.93L64.45 267.03L64.23 267.13L64 267.23L64 257Z" fill="#000"/>
<path id="t_y10" d="M47.38 214.62L51.88 214.62L51.88 198.59L47 199.61L47 197.02L51.84 196L54.62 196L54.62 214.62L59 214.62L59 217L47.38 217L47.38 214.62ZM70.5 198.17L70.09 198.19L69.69 198.26L69.32 198.36L68.97 198.5L68.64 198.69L68.33 198.92L68.05 199.19L67.78 199.5L67.54 199.86L67.31 200.25L67.11 200.69L66.93 201.17L66.77 201.69L66.63 202.25L66.52 202.85L66.42 203.5L66.35 204.19L66.29 204.92L66.26 205.69L66.25 206.5L66.26 207.31L66.29 208.09L66.35 208.81L66.42 209.5L66.52 210.15L66.63 210.75L66.77 211.31L66.93 211.84L67.11 212.31L67.31 212.75L67.54 213.14L67.78 213.5L68.05 213.81L68.33 214.08L68.64 214.31L68.97 214.5L69.32 214.64L69.69 214.75L70.09 214.81L70.5 214.83L70.91 214.81L71.31 214.75L71.68 214.64L72.03 214.5L72.36 214.31L72.67 214.08L72.95 213.81L73.22 213.5L73.46 213.14L73.69 212.75L73.89 212.31L74.07 211.84L74.23 211.31L74.37 210.75L74.48 210.15L74.58 209.5L74.65 208.81L74.71 208.09L74.74 207.31L74.75 206.5L74.74 205.69L74.71 204.92L74.65 204.19L74.58 203.5L74.48 202.85L74.37 202.25L74.23 201.69L74.07 201.17L73.89 200.69L73.69 200.25L73.46 199.86L73.22 199.5L72.95 199.19L72.67 198.92L72.36 198.69L72.03 198.5L71.68 198.36L71.31 198.25L70.91 198.19L70.5 198.17ZM70.5 196L71.17 196.03L71.8 196.11L72.4 196.24L72.97 196.43L73.5 196.67L74.01 196.97L74.48 197.32L74.92 197.72L75.33 198.18L75.7 198.69L76.04 199.25L76.35 199.86L76.62 200.52L76.85 201.23L77.05 201.98L77.21 202.79L77.34 203.64L77.43 204.55L77.48 205.5L77.5 206.5L77.48 207.5L77.43 208.45L77.34 209.36L77.21 210.21L77.05 211.02L76.85 211.77L76.62 212.48L76.35 213.14L76.04 213.75L75.7 214.31L75.33 214.82L74.92 215.28L74.48 215.68L74.01 216.03L73.5 216.33L72.97 216.57L72.4 216.76L71.8 216.89L71.17 216.97L70.5 217L69.83 216.97L69.2 216.89L68.6 216.76L68.03 216.57L67.5 216.33L66.99 216.03L66.52 215.68L66.08 215.28L65.67 214.82L65.3 214.31L64.96 213.75L64.65 213.14L64.38 212.48L64.15 211.77L63.95 211.02L63.79 210.21L63.66 209.36L63.57 208.45L63.52 207.5L63.5 206.5L63.52 205.5L63.57 204.55L63.66 203.64L63.79 202.79L63.95 201.98L64.15 201.23L64.38 200.52L64.65 199.86L64.96 199.25L65.3 198.69L65.67 198.18L66.08 197.72L66.52 197.32L66.99 196.97L67.5 196.67L68.03 196.43L68.6 196.24L69.2 196.11L69.83 196.03L70.5 196Z" fill="#000"/>
<path id="t_y15" d="M47.38 152.62L51.88 152.62L51.88 136.59L47 137.61L47 135.02L51.84 134L54.62 134L54.62 152.62L59 152.62L59 155L47.38 155L47.38 152.62ZM64.62 134L75.38 134L75.38 136.17L67.12 136.17L67.12 141.39L67.24 141.35L67.36 141.32L67.48 141.29L67.6 141.26L67.72 141.23L67.84 141.2L67.96 141.17L68.08 141.15L68.19 141.13L68.31 141.11L68.43 141.09L68.56 141.07L68.68 141.05L68.8 141.04L68.92 141.03L69.04 141.02L69.16 141.01L69.28 141L69.4 141L69.52 141L70.18 141.02L70.82 141.08L71.42 141.17L72 141.3L72.55 141.47L73.08 141.68L73.57 141.93L74.04 142.21L74.48 142.53L74.89 142.89L75.27 143.28L75.61 143.7L75.9 144.14L76.16 144.62L76.38 145.11L76.56 145.64L76.7 146.19L76.8 146.77L76.86 147.37L76.88 148L76.85 148.65L76.79 149.27L76.69 149.86L76.55 150.43L76.36 150.96L76.14 151.46L75.87 151.93L75.56 152.38L75.22 152.79L74.83 153.17L74.41 153.52L73.95 153.83L73.46 154.1L72.94 154.34L72.38 154.54L71.79 154.71L71.17 154.84L70.51 154.93L69.82 154.98L69.09 155L68.84 155L68.58 154.99L68.32 154.98L68.06 154.97L67.8 154.95L67.54 154.93L67.28 154.9L67.01 154.87L66.75 154.84L66.48 154.8L66.22 154.75L65.96 154.71L65.69 154.66L65.42 154.6L65.14 154.54L64.87 154.48L64.59 154.41L64.31 154.34L64.03 154.27L63.75 154.19L63.75 151.44L63.99 151.57L64.24 151.7L64.49 151.83L64.74 151.94L64.99 152.05L65.24 152.15L65.49 152.25L65.75 152.33L66.01 152.41L66.27 152.48L66.53 152.55L66.8 152.61L67.07 152.66L67.34 152.7L67.61 152.74L67.89 152.77L68.17 152.8L68.46 152.81L68.74 152.82L69.03 152.83L69.49 152.82L69.94 152.78L70.36 152.71L70.76 152.62L71.14 152.5L71.5 152.36L71.84 152.19L72.17 152L72.47 151.78L72.75 151.53L73.01 151.26L73.25 150.98L73.45 150.67L73.63 150.35L73.78 150L73.91 149.64L74 149.26L74.07 148.87L74.11 148.45L74.12 148.02L74.11 147.58L74.07 147.15L74 146.75L73.91 146.37L73.78 146L73.63 145.66L73.45 145.33L73.25 145.03L73.01 144.74L72.75 144.47L72.47 144.22L72.17 144L71.85 143.81L71.5 143.64L71.14 143.5L70.76 143.38L70.36 143.29L69.95 143.22L69.51 143.18L69.05 143.17L68.83 143.17L68.61 143.18L68.39 143.2L68.17 143.21L67.95 143.24L67.73 143.27L67.52 143.3L67.3 143.34L67.08 143.39L66.86 143.44L66.64 143.49L66.42 143.55L66.2 143.61L65.98 143.69L65.75 143.76L65.53 143.84L65.31 143.93L65.08 144.03L64.85 144.13L64.62 144.23L64.62 134Z" fill="#000"/>
<path id="t_y20" d="M49.3 91.83L58.88 91.83L58.88 94L46 94L46 91.83L46.32 91.48L46.67 91.11L47.04 90.72L47.43 90.31L47.84 89.87L48.28 89.41L48.74 88.92L49.22 88.41L49.72 87.88L50.25 87.33L50.77 86.78L51.25 86.27L51.69 85.8L52.09 85.38L52.45 84.99L52.77 84.65L53.05 84.34L53.28 84.08L53.48 83.85L53.64 83.67L53.9 83.37L54.13 83.07L54.36 82.79L54.56 82.51L54.75 82.25L54.93 81.99L55.09 81.74L55.23 81.51L55.36 81.28L55.47 81.06L55.57 80.85L55.66 80.64L55.74 80.43L55.81 80.22L55.87 80.01L55.91 79.8L55.95 79.59L55.98 79.38L55.99 79.18L56 78.97L55.99 78.64L55.95 78.32L55.9 78.02L55.82 77.73L55.71 77.45L55.59 77.18L55.44 76.93L55.27 76.68L55.08 76.45L54.86 76.23L54.63 76.03L54.38 75.85L54.12 75.69L53.85 75.55L53.56 75.44L53.26 75.34L52.95 75.27L52.62 75.21L52.28 75.18L51.92 75.17L51.66 75.18L51.4 75.19L51.13 75.21L50.86 75.25L50.59 75.29L50.31 75.34L50.04 75.4L49.76 75.47L49.47 75.55L49.19 75.64L48.9 75.74L48.61 75.84L48.32 75.96L48.02 76.08L47.71 76.22L47.41 76.36L47.1 76.52L46.78 76.69L46.46 76.86L46.14 77.05L46.14 74.27L46.47 74.14L46.79 74.02L47.11 73.91L47.43 73.81L47.74 73.71L48.05 73.61L48.35 73.53L48.65 73.45L48.94 73.38L49.23 73.31L49.52 73.25L49.8 73.2L50.07 73.15L50.34 73.11L50.61 73.08L50.87 73.05L51.12 73.03L51.37 73.01L51.62 73L51.86 73L52.47 73.02L53.07 73.07L53.63 73.15L54.17 73.26L54.68 73.41L55.17 73.58L55.64 73.8L56.07 74.04L56.49 74.32L56.88 74.62L57.23 74.96L57.55 75.31L57.83 75.69L58.08 76.09L58.28 76.51L58.45 76.95L58.58 77.41L58.68 77.9L58.73 78.41L58.75 78.94L58.75 79.19L58.73 79.45L58.71 79.7L58.67 79.94L58.63 80.19L58.58 80.43L58.52 80.67L58.45 80.91L58.37 81.14L58.28 81.38L58.18 81.61L58.06 81.85L57.93 82.11L57.78 82.36L57.62 82.63L57.44 82.91L57.25 83.19L57.04 83.48L56.82 83.79L56.58 84.09L56.49 84.19L56.38 84.32L56.24 84.48L56.07 84.66L55.87 84.88L55.64 85.13L55.38 85.41L55.09 85.72L54.77 86.07L54.42 86.44L54.04 86.84L53.64 87.27L53.2 87.73L52.73 88.22L52.23 88.75L51.71 89.3L51.15 89.89L50.56 90.5L49.94 91.15L49.3 91.83ZM70.5 75.17L70.09 75.19L69.69 75.26L69.32 75.36L68.97 75.5L68.64 75.69L68.33 75.92L68.05 76.19L67.78 76.5L67.54 76.86L67.31 77.25L67.11 77.69L66.93 78.17L66.77 78.69L66.63 79.25L66.52 79.85L66.42 80.5L66.35 81.19L66.29 81.92L66.26 82.69L66.25 83.5L66.26 84.31L66.29 85.09L66.35 85.81L66.42 86.5L66.52 87.15L66.63 87.75L66.77 88.31L66.93 88.84L67.11 89.31L67.31 89.75L67.54 90.14L67.78 90.5L68.05 90.81L68.33 91.08L68.64 91.31L68.97 91.5L69.32 91.64L69.69 91.75L70.09 91.81L70.5 91.83L70.91 91.81L71.31 91.75L71.68 91.64L72.03 91.5L72.36 91.31L72.67 91.08L72.95 90.81L73.22 90.5L73.46 90.14L73.69 89.75L73.89 89.31L74.07 88.84L74.23 88.31L74.37 87.75L74.48 87.15L74.58 86.5L74.65 85.81L74.71 85.09L74.74 84.31L74.75 83.5L74.74 82.69L74.71 81.92L74.65 81.19L74.58 80.5L74.48 79.85L74.37 79.25L74.23 78.69L74.07 78.17L73.89 77.69L73.69 77.25L73.46 76.86L73.22 76.5L72.95 76.19L72.67 75.92L72.36 75.69L72.03 75.5L71.68 75.36L71.31 75.25L70.91 75.19L70.5 75.17ZM70.5 73L71.17 73.03L71.8 73.11L72.4 73.24L72.97 73.43L73.5 73.67L74.01 73.97L74.48 74.32L74.92 74.72L75.33 75.18L75.7 75.69L76.04 76.25L76.35 76.86L76.62 77.52L76.85 78.23L77.05 78.98L77.21 79.79L77.34 80.64L77.43 81.55L77.48 82.5L77.5 83.5L77.48 84.5L77.43 85.45L77.34 86.36L77.21 87.21L77.05 88.02L76.85 88.77L76.62 89.48L76.35 90.14L76.04 90.75L75.7 91.31L75.33 91.82L74.92 92.28L74.48 92.68L74.01 93.03L73.5 93.33L72.97 93.57L72.4 93.76L71.8 93.89L71.17 93.97L70.5 94L69.83 93.97L69.2 93.89L68.6 93.76L68.03 93.57L67.5 93.33L66.99 93.03L66.52 92.68L66.08 92.28L65.67 91.82L65.3 91.31L64.96 90.75L64.65 90.14L64.38 89.48L64.15 88.77L63.95 88.02L63.79 87.21L63.66 86.36L63.57 85.45L63.52 84.5L63.5 83.5L63.52 82.5L63.57 81.55L63.66 80.64L63.79 79.79L63.95 78.98L64.15 78.23L64.38 77.52L64.65 76.86L64.96 76.25L65.3 75.69L65.67 75.18L66.08 74.72L66.52 74.32L66.99 73.97L67.5 73.67L68.03 73.43L68.6 73.24L69.2 73.11L69.83 73.03L70.5 73Z" fill="#000"/>
<path id="t_y25" d="M49.3 29.83L58.88 29.83L58.88 32L46 32L46 29.83L46.32 29.48L46.67 29.11L47.04 28.72L47.43 28.31L47.84 27.87L48.28 27.41L48.74 26.92L49.22 26.41L49.72 25.88L50.25 25.33L50.77 24.78L51.25 24.27L51.69 23.8L52.09 23.38L52.45 22.99L52.77 22.65L53.05 22.34L53.28 22.08L53.48 21.85L53.64 21.67L53.9 21.37L54.13 21.07L54.36 20.79L54.56 20.51L54.75 20.25L54.93 19.99L55.09 19.74L55.23 19.51L55.36 19.28L55.47 19.06L55.57 18.85L55.66 18.64L55.74 18.43L55.81 18.22L55.87 18.01L55.91 17.8L55.95 17.59L55.98 17.38L55.99 17.18L56 16.97L55.99 16.64L55.95 16.32L55.9 16.02L55.82 15.73L55.71 15.45L55.59 15.18L55.44 14.93L55.27 14.68L55.08 14.45L54.86 14.23L54.63 14.03L54.38 13.85L54.12 13.69L53.85 13.55L53.56 13.44L53.26 13.34L52.95 13.27L52.62 13.21L52.28 13.18L51.92 13.17L51.66 13.18L51.4 13.19L51.13 13.21L50.86 13.25L50.59 13.29L50.31 13.34L50.04 13.4L49.76 13.47L49.47 13.55L49.19 13.64L48.9 13.74L48.61 13.84L48.32 13.96L48.02 14.08L47.71 14.22L47.41 14.36L47.1 14.52L46.78 14.69L46.46 14.86L46.14 15.05L46.14 12.27L46.47 12.14L46.79 12.02L47.11 11.91L47.43 11.81L47.74 11.71L48.05 11.61L48.35 11.53L48.65 11.45L48.94 11.38L49.23 11.31L49.52 11.25L49.8 11.2L50.07 11.15L50.34 11.11L50.61 11.08L50.87 11.05L51.12 11.03L51.37 11.01L51.62 11L51.86 11L52.47 11.02L53.07 11.07L53.63 11.15L54.17 11.26L54.68 11.41L55.17 11.58L55.64 11.8L56.07 12.04L56.49 12.32L56.88 12.62L57.23 12.96L57.55 13.31L57.83 13.69L58.08 14.09L58.28 14.51L58.45 14.95L58.58 15.41L58.68 15.9L58.73 16.41L58.75 16.94L58.75 17.19L58.73 17.45L58.71 17.7L58.67 17.94L58.63 18.19L58.58 18.43L58.52 18.67L58.45 18.91L58.37 19.14L58.28 19.38L58.18 19.61L58.06 19.85L57.93 20.11L57.78 20.36L57.62 20.63L57.44 20.91L57.25 21.19L57.04 21.48L56.82 21.79L56.58 22.09L56.49 22.19L56.38 22.32L56.24 22.48L56.07 22.66L55.87 22.88L55.64 23.13L55.38 23.41L55.09 23.72L54.77 24.07L54.42 24.44L54.04 24.84L53.64 25.27L53.2 25.73L52.73 26.22L52.23 26.75L51.71 27.3L51.15 27.89L50.56 28.5L49.94 29.15L49.3 29.83ZM64.62 11L75.38 11L75.38 13.17L67.12 13.17L67.12 18.39L67.24 18.35L67.36 18.32L67.48 18.29L67.6 18.26L67.72 18.23L67.84 18.2L67.96 18.17L68.08 18.15L68.19 18.13L68.31 18.11L68.43 18.09L68.56 18.07L68.68 18.05L68.8 18.04L68.92 18.03L69.04 18.02L69.16 18.01L69.28 18L69.4 18L69.52 18L70.18 18.02L70.82 18.08L71.42 18.17L72 18.3L72.55 18.47L73.08 18.68L73.57 18.93L74.04 19.21L74.48 19.53L74.89 19.89L75.27 20.28L75.61 20.7L75.9 21.14L76.16 21.62L76.38 22.11L76.56 22.64L76.7 23.19L76.8 23.77L76.86 24.37L76.88 25L76.85 25.65L76.79 26.27L76.69 26.86L76.55 27.43L76.36 27.96L76.14 28.46L75.87 28.93L75.56 29.38L75.22 29.79L74.83 30.17L74.41 30.52L73.95 30.83L73.46 31.1L72.94 31.34L72.38 31.54L71.79 31.71L71.17 31.84L70.51 31.93L69.82 31.98L69.09 32L68.84 32L68.58 31.99L68.32 31.98L68.06 31.97L67.8 31.95L67.54 31.93L67.28 31.9L67.01 31.87L66.75 31.84L66.48 31.8L66.22 31.75L65.96 31.71L65.69 31.66L65.42 31.6L65.14 31.54L64.87 31.48L64.59 31.41L64.31 31.34L64.03 31.27L63.75 31.19L63.75 28.44L63.99 28.57L64.24 28.7L64.49 28.83L64.74 28.94L64.99 29.05L65.24 29.15L65.49 29.25L65.75 29.33L66.01 29.41L66.27 29.48L66.53 29.55L66.8 29.61L67.07 29.66L67.34 29.7L67.61 29.74L67.89 29.77L68.17 29.8L68.46 29.81L68.74 29.82L69.03 29.83L69.49 29.82L69.94 29.78L70.36 29.71L70.76 29.62L71.14 29.5L71.5 29.36L71.84 29.19L72.17 29L72.47 28.78L72.75 28.53L73.01 28.26L73.25 27.98L73.45 27.67L73.63 27.35L73.78 27L73.91 26.64L74 26.26L74.07 25.87L74.11 25.45L74.12 25.02L74.11 24.58L74.07 24.15L74 23.75L73.91 23.37L73.78 23L73.63 22.66L73.45 22.33L73.25 22.03L73.01 21.74L72.75 21.47L72.47 21.22L72.17 21L71.85 20.81L71.5 20.64L71.14 20.5L70.76 20.38L70.36 20.29L69.95 20.22L69.51 20.18L69.05 20.17L68.83 20.17L68.61 20.18L68.39 20.2L68.17 20.21L67.95 20.24L67.73 20.27L67.52 20.3L67.3 20.34L67.08 20.39L66.86 20.44L66.64 20.49L66.42 20.55L66.2 20.61L65.98 20.69L65.75 20.76L65.53 20.84L65.31 20.93L65.08 21.03L64.85 21.13L64.62 21.23L64.62 11Z" fill="#000"/>
<path id="t_xlabel" d="M191.81 375L194.58 375L198.05 382.58L204.31 375L207.52 375L199.17 385.03L204.2 396L201.45 396L197.38 387.16L190 396L186.81 396L196.27 384.7L191.81 375ZM215.25 389L214.98 390.5L211.48 390.5L210.36 396.42L210.35 396.48L210.34 396.54L210.32 396.6L210.31 396.66L210.3 396.71L210.3 396.77L210.29 396.82L210.28 396.87L210.27 396.92L210.27 396.97L210.26 397.01L210.25 397.06L210.25 397.1L210.25 397.14L210.24 397.18L210.24 397.21L210.24 397.24L210.24 397.27L210.23 397.3L210.23 397.33L210.24 397.45L210.25 397.56L210.27 397.67L210.29 397.77L210.32 397.87L210.36 397.95L210.41 398.03L210.46 398.11L210.53 398.17L210.59 398.23L210.67 398.28L210.76 398.33L210.86 398.37L210.96 398.4L211.08 398.43L211.2 398.46L211.33 398.48L211.47 398.49L211.62 398.5L211.78 398.5L213.55 398.5L213.25 400L211.58 400L211.27 399.99L210.99 399.98L210.71 399.94L210.46 399.9L210.21 399.84L209.99 399.77L209.78 399.69L209.59 399.6L209.41 399.49L209.25 399.38L209.1 399.24L208.97 399.1L208.86 398.94L208.76 398.78L208.68 398.59L208.61 398.4L208.55 398.19L208.52 397.98L208.49 397.74L208.48 397.5L208.48 397.46L208.49 397.41L208.49 397.36L208.49 397.32L208.49 397.27L208.5 397.22L208.5 397.17L208.5 397.12L208.51 397.07L208.52 397.02L208.52 396.96L208.53 396.9L208.54 396.84L208.54 396.79L208.55 396.73L208.56 396.67L208.57 396.61L208.58 396.55L208.58 396.48L208.59 396.42L209.73 390.5L208.25 390.5L208.53 389L209.98 389L210.58 386L212.33 386L211.75 389L215.25 389ZM223.38 393.5L223.38 393.47L223.39 393.44L223.39 393.41L223.4 393.38L223.4 393.36L223.41 393.33L223.41 393.3L223.42 393.27L223.42 393.23L223.42 393.2L223.42 393.17L223.43 393.14L223.43 393.11L223.43 393.08L223.43 393.05L223.44 393.02L223.44 392.98L223.44 392.95L223.44 392.92L223.44 392.89L223.43 392.67L223.41 392.47L223.38 392.27L223.33 392.08L223.27 391.9L223.19 391.73L223.1 391.57L223 391.42L222.88 391.27L222.75 391.14L222.61 391.02L222.46 390.91L222.3 390.81L222.13 390.73L221.95 390.66L221.76 390.6L221.56 390.56L221.36 390.53L221.14 390.51L220.91 390.5L220.65 390.51L220.39 390.53L220.15 390.57L219.91 390.62L219.67 390.7L219.44 390.78L219.22 390.88L219.01 391L218.8 391.13L218.59 391.28L218.4 391.44L218.21 391.62L218.04 391.81L217.87 392.01L217.72 392.23L217.57 392.45L217.44 392.7L217.31 392.95L217.2 393.22L217.09 393.5L223.38 393.5ZM224.91 395L216.75 395L216.74 395.07L216.73 395.13L216.72 395.19L216.72 395.25L216.71 395.31L216.7 395.36L216.69 395.41L216.69 395.46L216.68 395.5L216.67 395.55L216.67 395.59L216.67 395.63L216.66 395.66L216.66 395.7L216.66 395.73L216.66 395.76L216.66 395.79L216.66 395.82L216.66 395.85L216.66 395.88L216.66 396.12L216.69 396.36L216.73 396.58L216.79 396.8L216.86 397L216.95 397.19L217.05 397.36L217.18 397.53L217.31 397.68L217.47 397.83L217.64 397.96L217.82 398.07L218.02 398.17L218.23 398.26L218.45 398.33L218.69 398.39L218.94 398.44L219.2 398.47L219.48 398.49L219.77 398.5L219.99 398.5L220.22 398.49L220.44 398.48L220.66 398.46L220.88 398.44L221.09 398.42L221.3 398.39L221.51 398.35L221.72 398.31L221.92 398.27L222.13 398.21L222.33 398.16L222.53 398.1L222.72 398.03L222.91 397.96L223.1 397.89L223.29 397.81L223.47 397.73L223.65 397.64L223.83 397.55L223.5 399.25L223.31 399.32L223.12 399.39L222.92 399.46L222.73 399.52L222.54 399.58L222.34 399.63L222.14 399.68L221.94 399.73L221.75 399.77L221.55 399.81L221.35 399.85L221.15 399.88L220.94 399.91L220.74 399.93L220.54 399.95L220.33 399.97L220.12 399.98L219.92 399.99L219.71 400L219.5 400L219.07 399.99L218.65 399.96L218.26 399.91L217.89 399.83L217.54 399.74L217.2 399.62L216.89 399.49L216.6 399.33L216.33 399.15L216.08 398.95L215.85 398.74L215.65 398.5L215.47 398.25L215.32 397.98L215.19 397.69L215.08 397.39L215 397.07L214.94 396.73L214.9 396.37L214.89 396L214.9 395.67L214.91 395.35L214.94 395.04L214.99 394.72L215.04 394.42L215.1 394.12L215.18 393.82L215.27 393.52L215.37 393.24L215.48 392.95L215.61 392.67L215.75 392.4L215.9 392.14L216.06 391.88L216.23 391.62L216.41 391.37L216.6 391.13L216.8 390.89L217.01 390.66L217.23 390.44L217.39 390.3L217.55 390.18L217.71 390.05L217.88 389.94L218.05 389.83L218.23 389.73L218.41 389.63L218.6 389.54L218.8 389.45L219 389.38L219.21 389.3L219.42 389.24L219.63 389.18L219.84 389.13L220.06 389.09L220.28 389.06L220.5 389.03L220.73 389.01L220.96 389L221.19 389L221.54 389.01L221.88 389.04L222.2 389.1L222.51 389.18L222.8 389.27L223.08 389.39L223.34 389.54L223.59 389.7L223.83 389.89L224.05 390.09L224.25 390.32L224.44 390.56L224.6 390.81L224.74 391.08L224.86 391.36L224.95 391.66L225.03 391.97L225.08 392.3L225.11 392.64L225.12 393L225.12 393.09L225.12 393.18L225.12 393.27L225.12 393.36L225.11 393.45L225.1 393.55L225.09 393.64L225.09 393.74L225.07 393.84L225.06 393.94L225.05 394.04L225.04 394.14L225.03 394.24L225.01 394.34L225 394.45L224.98 394.55L224.97 394.66L224.95 394.77L224.93 394.89L224.91 395ZM235.75 389.58L235.42 391.23L235.28 391.16L235.14 391.09L234.99 391.03L234.85 390.97L234.7 390.91L234.56 390.86L234.41 390.81L234.26 390.76L234.11 390.72L233.95 390.69L233.8 390.65L233.64 390.62L233.49 390.59L233.33 390.57L233.17 390.55L233.01 390.53L232.85 390.52L232.69 390.51L232.52 390.5L232.36 390.5L232.09 390.5L231.83 390.52L231.59 390.54L231.35 390.57L231.13 390.62L230.92 390.67L230.72 390.73L230.53 390.8L230.35 390.88L230.19 390.97L230.04 391.06L229.9 391.16L229.78 391.27L229.68 391.38L229.59 391.5L229.52 391.63L229.46 391.76L229.42 391.9L229.4 392.05L229.39 392.2L229.41 392.38L229.46 392.56L229.56 392.72L229.69 392.87L229.85 393.02L230.05 393.16L230.29 393.29L230.57 393.41L230.88 393.52L231.23 393.62L231.26 393.63L231.29 393.64L231.31 393.64L231.34 393.65L231.36 393.65L231.38 393.66L231.4 393.66L231.42 393.67L231.44 393.67L231.45 393.67L232.02 393.84L232.35 393.94L232.67 394.04L232.96 394.14L233.23 394.24L233.47 394.34L233.69 394.44L233.89 394.54L234.07 394.65L234.22 394.75L234.34 394.86L234.46 394.97L234.56 395.08L234.65 395.2L234.72 395.33L234.79 395.47L234.84 395.61L234.88 395.76L234.91 395.92L234.93 396.09L234.94 396.27L234.92 396.59L234.88 396.9L234.82 397.2L234.72 397.48L234.6 397.76L234.45 398.02L234.27 398.27L234.07 398.51L233.84 398.74L233.58 398.95L233.3 399.15L233.01 399.33L232.7 399.49L232.37 399.62L232.03 399.74L231.67 399.83L231.29 399.91L230.9 399.96L230.49 399.99L230.06 400L229.89 400L229.72 399.99L229.54 399.99L229.36 399.98L229.18 399.96L229 399.94L228.82 399.92L228.64 399.9L228.45 399.87L228.27 399.84L228.08 399.81L227.89 399.77L227.69 399.72L227.5 399.68L227.29 399.62L227.09 399.57L226.88 399.51L226.66 399.45L226.44 399.38L226.22 399.31L226.56 397.52L226.76 397.61L226.95 397.7L227.14 397.79L227.33 397.87L227.52 397.94L227.71 398.01L227.9 398.08L228.08 398.14L228.27 398.2L228.45 398.25L228.64 398.3L228.83 398.34L229.01 398.38L229.19 398.41L229.37 398.44L229.55 398.46L229.73 398.48L229.9 398.49L230.08 398.5L230.25 398.5L230.5 398.49L230.74 398.48L230.98 398.45L231.2 398.42L231.41 398.37L231.61 398.31L231.81 398.24L231.99 398.16L232.16 398.07L232.33 397.97L232.48 397.86L232.62 397.74L232.74 397.62L232.85 397.49L232.94 397.35L233.01 397.21L233.07 397.07L233.11 396.91L233.13 396.76L233.14 396.59L233.12 396.42L233.06 396.26L232.95 396.1L232.8 395.94L232.61 395.8L232.38 395.66L232.11 395.52L231.79 395.39L231.43 395.27L231.03 395.16L230.84 395.11L230.25 394.95L229.99 394.89L229.75 394.81L229.52 394.74L229.3 394.65L229.1 394.57L228.91 394.48L228.74 394.38L228.58 394.28L228.43 394.17L228.3 394.06L228.18 393.94L228.07 393.82L227.98 393.69L227.9 393.56L227.83 393.41L227.77 393.27L227.73 393.12L227.7 392.96L227.68 392.79L227.67 392.62L227.68 392.3L227.72 391.98L227.79 391.69L227.88 391.4L227.99 391.13L228.13 390.87L228.3 390.63L228.49 390.4L228.71 390.19L228.95 389.98L229.22 389.8L229.5 389.63L229.8 389.48L230.13 389.35L230.46 389.25L230.82 389.16L231.2 389.09L231.59 389.04L232.01 389.01L232.44 389L232.61 389L232.78 389.01L232.95 389.01L233.12 389.02L233.29 389.04L233.46 389.05L233.63 389.07L233.79 389.09L233.96 389.11L234.12 389.14L234.29 389.17L234.46 389.2L234.62 389.24L234.78 389.28L234.95 389.32L235.11 389.37L235.27 389.41L235.43 389.47L235.59 389.52L235.75 389.58ZM244.25 389L243.98 390.5L240.48 390.5L239.36 396.42L239.35 396.48L239.34 396.54L239.32 396.6L239.31 396.66L239.3 396.71L239.3 396.77L239.29 396.82L239.28 396.87L239.27 396.92L239.27 396.97L239.26 397.01L239.25 397.06L239.25 397.1L239.25 397.14L239.24 397.18L239.24 397.21L239.24 397.24L239.24 397.27L239.23 397.3L239.23 397.33L239.24 397.45L239.25 397.56L239.27 397.67L239.29 397.77L239.32 397.87L239.36 397.95L239.41 398.03L239.46 398.11L239.53 398.17L239.59 398.23L239.67 398.28L239.76 398.33L239.86 398.37L239.96 398.4L240.08 398.43L240.2 398.46L240.33 398.48L240.47 398.49L240.62 398.5L240.78 398.5L242.55 398.5L242.25 400L240.58 400L240.27 399.99L239.99 399.98L239.71 399.94L239.46 399.9L239.21 399.84L238.99 399.77L238.78 399.69L238.59 399.6L238.41 399.49L238.25 399.38L238.1 399.24L237.97 399.1L237.86 398.94L237.76 398.78L237.68 398.59L237.61 398.4L237.55 398.19L237.52 397.98L237.49 397.74L237.48 397.5L237.48 397.46L237.49 397.41L237.49 397.36L237.49 397.32L237.49 397.27L237.5 397.22L237.5 397.17L237.5 397.12L237.51 397.07L237.52 397.02L237.52 396.96L237.53 396.9L237.54 396.84L237.54 396.79L237.55 396.73L237.56 396.67L237.57 396.61L237.58 396.55L237.58 396.48L237.59 396.42L238.73 390.5L237.25 390.5L237.53 389L238.98 389L239.58 386L241.33 386L240.75 389L244.25 389ZM262.58 374L262.22 374.64L261.89 375.28L261.57 375.92L261.28 376.56L261 377.2L260.74 377.83L260.49 378.47L260.27 379.1L260.06 379.73L259.88 380.36L259.71 380.99L259.56 381.62L259.43 382.25L259.31 382.89L259.22 383.52L259.14 384.16L259.08 384.8L259.03 385.44L259.01 386.09L259 386.73L259.01 387.38L259.04 388.03L259.08 388.67L259.14 389.31L259.22 389.95L259.32 390.59L259.44 391.23L259.57 391.87L259.72 392.51L259.89 393.14L260.08 393.77L260.28 394.41L260.51 395.04L260.75 395.67L261.01 396.31L261.29 396.95L261.58 397.58L261.9 398.22L262.23 398.86L262.58 399.5L260.41 399.5L260.01 398.84L259.64 398.19L259.29 397.53L258.95 396.88L258.64 396.23L258.35 395.59L258.07 394.95L257.82 394.31L257.59 393.67L257.38 393.03L257.19 392.4L257.02 391.76L256.87 391.13L256.74 390.5L256.62 389.87L256.54 389.24L256.47 388.61L256.42 387.99L256.38 387.36L256.38 386.73L256.39 386.11L256.42 385.49L256.46 384.86L256.54 384.24L256.62 383.61L256.74 382.99L256.87 382.36L257.01 381.73L257.19 381.1L257.38 380.47L257.59 379.84L257.82 379.2L258.07 378.56L258.34 377.92L258.63 377.27L258.95 376.62L259.28 375.97L259.63 375.32L260.01 374.66L260.41 374L262.58 374ZM278.45 383.38L278.64 383.04L278.84 382.72L279.05 382.42L279.26 382.14L279.48 381.88L279.71 381.63L279.95 381.41L280.19 381.2L280.44 381L280.7 380.83L280.97 380.67L281.25 380.53L281.53 380.41L281.83 380.3L282.13 380.21L282.44 380.13L282.76 380.07L283.09 380.03L283.43 380.01L283.78 380L284.25 380.02L284.69 380.07L285.11 380.15L285.51 380.27L285.89 380.43L286.24 380.62L286.58 380.84L286.89 381.1L287.18 381.39L287.45 381.72L287.7 382.07L287.92 382.46L288.11 382.87L288.28 383.31L288.43 383.79L288.54 384.29L288.63 384.82L288.7 385.37L288.74 385.96L288.75 386.58L288.75 396L286.25 396L286.25 386.61L286.24 386.17L286.22 385.76L286.18 385.36L286.12 384.99L286.05 384.65L285.97 384.33L285.87 384.03L285.75 383.75L285.62 383.5L285.47 383.27L285.3 383.06L285.12 382.87L284.93 382.71L284.71 382.57L284.48 382.45L284.24 382.35L283.98 382.27L283.7 382.22L283.4 382.18L283.09 382.17L282.71 382.19L282.35 382.23L282 382.29L281.66 382.39L281.34 382.51L281.04 382.66L280.76 382.83L280.49 383.03L280.24 383.26L280 383.52L279.79 383.79L279.6 384.09L279.43 384.4L279.28 384.73L279.16 385.08L279.06 385.45L278.98 385.84L278.92 386.25L278.89 386.68L278.88 387.12L278.88 396L276.38 396L276.38 386.61L276.37 386.17L276.34 385.76L276.3 385.36L276.25 384.99L276.18 384.65L276.09 384.33L275.99 384.03L275.88 383.75L275.74 383.5L275.59 383.27L275.43 383.06L275.25 382.87L275.05 382.71L274.83 382.57L274.6 382.45L274.35 382.35L274.09 382.27L273.8 382.22L273.5 382.18L273.19 382.17L272.81 382.19L272.45 382.23L272.1 382.29L271.77 382.39L271.46 382.51L271.16 382.66L270.88 382.83L270.61 383.03L270.36 383.26L270.12 383.52L269.91 383.79L269.72 384.09L269.55 384.4L269.41 384.74L269.28 385.09L269.18 385.46L269.1 385.85L269.05 386.26L269.01 386.68L269 387.12L269 396L266.5 396L266.5 380L269 380L269 382.75L269.18 382.48L269.36 382.22L269.55 381.97L269.74 381.74L269.94 381.53L270.15 381.33L270.36 381.14L270.59 380.97L270.81 380.81L271.05 380.67L271.29 380.54L271.55 380.43L271.81 380.33L272.08 380.24L272.36 380.17L272.65 380.11L272.95 380.06L273.26 380.03L273.58 380.01L273.91 380L274.23 380.01L274.55 380.04L274.86 380.08L275.15 380.14L275.44 380.22L275.71 380.32L275.98 380.43L276.24 380.56L276.48 380.71L276.72 380.88L276.95 381.05L277.16 381.25L277.37 381.46L277.56 381.69L277.74 381.93L277.91 382.19L278.06 382.46L278.2 382.75L278.33 383.05L278.45 383.38ZM293.17 374L295.34 374L295.74 374.66L296.11 375.32L296.46 375.97L296.79 376.62L297.11 377.27L297.4 377.92L297.67 378.56L297.92 379.2L298.15 379.84L298.36 380.47L298.55 381.1L298.73 381.73L298.88 382.36L299.01 382.99L299.12 383.61L299.21 384.24L299.28 384.86L299.33 385.49L299.36 386.11L299.38 386.73L299.36 387.36L299.33 387.99L299.28 388.61L299.21 389.24L299.12 389.87L299.01 390.5L298.88 391.13L298.73 391.76L298.55 392.4L298.36 393.03L298.15 393.67L297.92 394.31L297.67 394.95L297.4 395.59L297.11 396.23L296.79 396.88L296.46 397.53L296.11 398.19L295.74 398.84L295.34 399.5L293.17 399.5L293.52 398.86L293.85 398.22L294.17 397.58L294.46 396.95L294.74 396.31L295 395.67L295.24 395.04L295.47 394.41L295.67 393.77L295.86 393.14L296.03 392.51L296.18 391.87L296.31 391.23L296.43 390.59L296.53 389.95L296.61 389.31L296.67 388.67L296.71 388.03L296.74 387.38L296.75 386.73L296.74 386.09L296.71 385.44L296.67 384.8L296.61 384.16L296.53 383.52L296.43 382.89L296.31 382.25L296.18 381.62L296.03 380.99L295.86 380.36L295.67 379.73L295.47 379.1L295.24 378.47L295 377.83L294.74 377.2L294.46 376.56L294.17 375.92L293.85 375.28L293.52 374.64L293.17 374Z" fill="#000"/>
<path id="t_ylabel" d="M10 304.25L10 300.19L24.3 295L10 289.8L10 285.75L31 285.75L31 288.38L12.56 288.38L26.97 293.62L26.97 296.38L12.56 301.62L31 301.62L31 304.25L10 304.25ZM23 273.5L23.01 274.09L23.03 274.64L23.06 275.15L23.11 275.63L23.17 276.07L23.25 276.47L23.34 276.83L23.44 277.16L23.56 277.45L23.69 277.7L23.83 277.93L23.99 278.13L24.18 278.3L24.38 278.45L24.6 278.58L24.84 278.69L25.1 278.77L25.37 278.83L25.67 278.86L25.98 278.88L26.24 278.87L26.49 278.84L26.72 278.8L26.95 278.74L27.16 278.66L27.36 278.56L27.55 278.45L27.73 278.32L27.9 278.17L28.06 278L28.21 277.82L28.34 277.62L28.45 277.41L28.55 277.19L28.64 276.96L28.71 276.71L28.76 276.45L28.8 276.19L28.82 275.9L28.83 275.61L28.81 275.2L28.77 274.81L28.7 274.43L28.6 274.07L28.47 273.73L28.31 273.4L28.12 273.09L27.91 272.8L27.66 272.52L27.39 272.27L27.09 272.03L26.77 271.81L26.43 271.62L26.08 271.46L25.7 271.32L25.3 271.2L24.89 271.11L24.46 271.05L24 271.01L23.53 271L23 271L23 273.5ZM22.09 268.5L31 268.5L31 271L28.23 271L28.51 271.18L28.77 271.36L29.01 271.55L29.24 271.75L29.46 271.96L29.66 272.18L29.85 272.41L30.02 272.64L30.18 272.89L30.33 273.14L30.46 273.4L30.57 273.68L30.67 273.96L30.76 274.26L30.83 274.56L30.89 274.88L30.94 275.21L30.97 275.55L30.99 275.9L31 276.27L30.99 276.72L30.95 277.17L30.88 277.59L30.79 277.99L30.67 278.37L30.52 278.74L30.35 279.08L30.15 279.41L29.92 279.71L29.67 280L29.4 280.26L29.1 280.5L28.79 280.7L28.46 280.88L28.11 281.03L27.75 281.16L27.36 281.25L26.96 281.32L26.53 281.36L26.09 281.38L25.58 281.36L25.1 281.31L24.64 281.22L24.2 281.1L23.8 280.95L23.42 280.76L23.06 280.53L22.73 280.28L22.43 279.98L22.16 279.66L21.9 279.29L21.68 278.9L21.48 278.47L21.31 278L21.16 277.5L21.04 276.97L20.95 276.41L20.88 275.81L20.84 275.18L20.83 274.52L20.83 271L20.59 271L20.28 271.01L19.97 271.05L19.68 271.1L19.41 271.18L19.15 271.29L18.91 271.41L18.68 271.56L18.46 271.73L18.26 271.92L18.08 272.14L17.91 272.38L17.75 272.63L17.62 272.91L17.5 273.2L17.4 273.51L17.32 273.84L17.25 274.18L17.21 274.55L17.18 274.93L17.17 275.33L17.17 275.59L17.18 275.85L17.2 276.11L17.22 276.37L17.25 276.62L17.28 276.88L17.32 277.13L17.36 277.38L17.41 277.63L17.47 277.88L17.53 278.12L17.6 278.37L17.67 278.61L17.75 278.85L17.84 279.09L17.93 279.33L18.03 279.56L18.13 279.8L18.24 280.03L18.36 280.27L16.09 280.27L15.99 279.99L15.89 279.72L15.79 279.45L15.7 279.18L15.62 278.91L15.54 278.64L15.47 278.38L15.4 278.12L15.34 277.85L15.28 277.59L15.23 277.34L15.18 277.08L15.14 276.82L15.1 276.57L15.07 276.32L15.04 276.07L15.03 275.82L15.01 275.57L15 275.32L15 275.08L15.02 274.43L15.07 273.82L15.16 273.24L15.28 272.7L15.44 272.19L15.64 271.71L15.87 271.27L16.13 270.86L16.43 270.48L16.77 270.14L17.13 269.83L17.54 269.55L17.98 269.3L18.46 269.09L18.97 268.91L19.52 268.76L20.11 268.65L20.74 268.57L21.4 268.52L22.09 268.5ZM15 250.77L22.78 256.25L31 250.48L31 253.42L24.72 257.84L31 262.27L31 265.2L22.62 259.31L15 264.7L15 261.77L20.7 257.73L15 253.7L15 250.77ZM12.17 229.86L12.19 230.45L12.26 231.01L12.37 231.55L12.53 232.06L12.73 232.55L12.98 233.01L13.27 233.45L13.61 233.87L13.99 234.26L14.42 234.62L14.88 234.96L15.38 235.26L15.91 235.52L16.47 235.75L17.06 235.94L17.68 236.09L18.34 236.22L19.03 236.31L19.75 236.36L20.5 236.38L21.25 236.36L21.97 236.31L22.66 236.22L23.32 236.1L23.95 235.94L24.54 235.75L25.1 235.52L25.63 235.25L26.13 234.96L26.59 234.62L27.02 234.26L27.4 233.87L27.73 233.45L28.02 233.02L28.27 232.55L28.47 232.06L28.63 231.55L28.74 231.01L28.81 230.45L28.83 229.86L28.81 229.27L28.74 228.72L28.63 228.18L28.47 227.67L28.27 227.18L28.02 226.72L27.73 226.29L27.4 225.87L27.02 225.49L26.59 225.12L26.13 224.79L25.63 224.5L25.1 224.23L24.54 224L23.95 223.81L23.32 223.66L22.66 223.53L21.97 223.45L21.25 223.39L20.5 223.38L19.75 223.39L19.03 223.45L18.34 223.53L17.68 223.66L17.06 223.81L16.47 224L15.91 224.23L15.38 224.5L14.88 224.79L14.42 225.12L13.99 225.49L13.61 225.87L13.27 226.29L12.98 226.72L12.73 227.18L12.53 227.67L12.37 228.18L12.26 228.72L12.19 229.27L12.17 229.86ZM30.5 226L34.5 222.41L34.5 225.72L31 228.72L31 228.81L31 228.89L31 228.97L31 229.05L31 229.12L31 229.18L31 229.25L31 229.3L31 229.36L31 229.41L31 229.45L31 229.5L31 229.55L31 229.59L31 229.64L31 229.68L31 229.73L31 229.77L31 229.82L31 229.86L30.97 230.7L30.89 231.5L30.74 232.27L30.54 233.01L30.29 233.71L29.97 234.38L29.6 235.01L29.17 235.61L28.68 236.17L28.14 236.7L27.55 237.19L26.92 237.62L26.25 238L25.55 238.33L24.8 238.61L24.02 238.84L23.2 239.02L22.34 239.15L21.44 239.22L20.5 239.25L19.56 239.22L18.66 239.15L17.8 239.02L16.98 238.84L16.19 238.61L15.45 238.33L14.74 238L14.08 237.62L13.45 237.19L12.86 236.7L12.32 236.17L11.83 235.61L11.4 235.01L11.03 234.38L10.71 233.71L10.46 233.01L10.26 232.27L10.11 231.5L10.03 230.7L10 229.86L10.03 229.02L10.12 228.22L10.26 227.45L10.46 226.72L10.72 226.02L11.04 225.36L11.42 224.73L11.85 224.13L12.34 223.57L12.89 223.05L13.49 222.56L14.12 222.13L14.8 221.75L15.51 221.42L16.27 221.14L17.06 220.91L17.9 220.73L18.77 220.6L19.69 220.53L20.64 220.5L21.34 220.51L22.03 220.56L22.69 220.63L23.33 220.73L23.95 220.86L24.55 221.01L25.13 221.2L25.69 221.41L26.23 221.65L26.75 221.92L27.24 222.22L27.71 222.54L28.15 222.88L28.56 223.25L28.95 223.64L29.31 224.06L29.65 224.51L29.96 224.98L30.24 225.48L30.5 226ZM24.45 216.62L15 216.62L15 214.12L24.38 214.12L24.81 214.12L25.22 214.09L25.61 214.05L25.98 213.99L26.33 213.91L26.65 213.82L26.95 213.71L27.23 213.59L27.49 213.44L27.72 213.28L27.93 213.1L28.12 212.91L28.28 212.7L28.43 212.47L28.55 212.23L28.65 211.96L28.73 211.69L28.78 211.39L28.82 211.08L28.83 210.75L28.82 210.35L28.78 209.97L28.71 209.61L28.62 209.26L28.5 208.93L28.36 208.62L28.19 208.33L27.99 208.05L27.77 207.79L27.52 207.55L27.24 207.32L26.95 207.12L26.63 206.95L26.3 206.8L25.94 206.67L25.57 206.56L25.17 206.48L24.76 206.42L24.33 206.39L23.88 206.38L15 206.38L15 203.88L31 203.88L31 206.38L28.25 206.38L28.52 206.56L28.78 206.75L29.02 206.95L29.25 207.15L29.46 207.36L29.67 207.57L29.85 207.79L30.03 208.02L30.18 208.25L30.33 208.48L30.46 208.73L30.57 208.98L30.67 209.24L30.76 209.51L30.83 209.79L30.89 210.07L30.94 210.36L30.97 210.66L30.99 210.97L31 211.28L30.98 211.79L30.93 212.28L30.85 212.74L30.73 213.18L30.58 213.59L30.4 213.98L30.18 214.34L29.93 214.67L29.65 214.98L29.33 215.27L28.98 215.52L28.6 215.76L28.19 215.96L27.75 216.14L27.27 216.29L26.77 216.41L26.24 216.5L25.67 216.57L25.08 216.61L24.45 216.62ZM15 210.38L15 210.38ZM22 185.88L23.17 185.88L23.17 197.25L23.71 197.24L24.22 197.19L24.71 197.12L25.16 197.03L25.6 196.9L26.01 196.75L26.39 196.57L26.74 196.36L27.07 196.12L27.38 195.86L27.65 195.57L27.9 195.25L28.12 194.92L28.31 194.56L28.46 194.18L28.6 193.78L28.7 193.35L28.77 192.91L28.81 192.44L28.83 191.95L28.82 191.66L28.81 191.38L28.79 191.09L28.77 190.81L28.73 190.53L28.69 190.25L28.64 189.97L28.59 189.7L28.52 189.43L28.45 189.16L28.37 188.88L28.28 188.61L28.19 188.34L28.08 188.07L27.97 187.8L27.86 187.53L27.73 187.26L27.6 186.99L27.46 186.72L27.31 186.45L29.8 186.45L29.91 186.72L30.02 186.99L30.13 187.26L30.23 187.54L30.32 187.81L30.41 188.09L30.49 188.37L30.57 188.64L30.64 188.92L30.7 189.2L30.76 189.48L30.81 189.76L30.85 190.04L30.89 190.32L30.93 190.61L30.95 190.89L30.97 191.17L30.99 191.46L31 191.74L31 192.03L30.98 192.74L30.92 193.42L30.81 194.07L30.66 194.69L30.47 195.28L30.23 195.84L29.96 196.36L29.64 196.86L29.28 197.33L28.88 197.77L28.44 198.17L27.97 198.53L27.47 198.84L26.94 199.12L26.38 199.35L25.79 199.54L25.17 199.69L24.52 199.79L23.85 199.85L23.14 199.88L22.41 199.86L21.71 199.8L21.04 199.69L20.4 199.55L19.79 199.38L19.21 199.16L18.66 198.9L18.15 198.6L17.66 198.25L17.2 197.88L16.78 197.46L16.41 197.02L16.08 196.55L15.79 196.05L15.55 195.52L15.35 194.97L15.2 194.39L15.09 193.78L15.02 193.14L15 192.47L15.02 191.87L15.08 191.3L15.17 190.76L15.3 190.24L15.47 189.74L15.68 189.27L15.93 188.83L16.21 188.41L16.53 188.02L16.89 187.66L17.28 187.32L17.7 187.02L18.14 186.75L18.61 186.52L19.11 186.32L19.63 186.16L20.18 186.04L20.76 185.95L21.37 185.89L22 185.88ZM21 188.38L20.66 188.39L20.33 188.42L20.01 188.48L19.71 188.56L19.43 188.66L19.16 188.78L18.9 188.93L18.66 189.1L18.43 189.29L18.22 189.5L18.02 189.73L17.84 189.97L17.68 190.23L17.55 190.5L17.43 190.79L17.34 191.1L17.27 191.41L17.21 191.75L17.18 192.09L17.17 192.45L17.18 192.86L17.21 193.26L17.26 193.63L17.33 194L17.42 194.34L17.53 194.67L17.66 194.98L17.81 195.27L17.98 195.55L18.17 195.81L18.38 196.05L18.61 196.27L18.85 196.47L19.1 196.64L19.38 196.8L19.67 196.93L19.98 197.04L20.3 197.13L20.64 197.2L21 197.25L21 188.38ZM24.45 182L15 182L15 179.5L24.38 179.5L24.81 179.49L25.22 179.47L25.61 179.42L25.98 179.37L26.33 179.29L26.65 179.2L26.95 179.09L27.23 178.96L27.49 178.82L27.72 178.66L27.93 178.48L28.12 178.29L28.28 178.07L28.43 177.85L28.55 177.6L28.65 177.34L28.73 177.06L28.78 176.77L28.82 176.45L28.83 176.12L28.82 175.73L28.78 175.35L28.71 174.98L28.62 174.64L28.5 174.31L28.36 174L28.19 173.7L27.99 173.43L27.77 173.16L27.52 172.92L27.24 172.7L26.95 172.5L26.63 172.32L26.3 172.17L25.94 172.04L25.57 171.94L25.17 171.86L24.76 171.8L24.33 171.76L23.88 171.75L15 171.75L15 169.25L31 169.25L31 171.75L28.25 171.75L28.52 171.93L28.78 172.12L29.02 172.32L29.25 172.52L29.46 172.73L29.67 172.94L29.85 173.16L30.03 173.39L30.18 173.62L30.33 173.86L30.46 174.1L30.57 174.36L30.67 174.62L30.76 174.88L30.83 175.16L30.89 175.44L30.94 175.74L30.97 176.03L30.99 176.34L31 176.66L30.98 177.17L30.93 177.66L30.85 178.12L30.73 178.55L30.58 178.96L30.4 179.35L30.18 179.71L29.93 180.05L29.65 180.36L29.33 180.64L28.98 180.9L28.6 181.13L28.19 181.33L27.75 181.51L27.27 181.66L26.77 181.78L26.24 181.88L25.67 181.95L25.08 181.99L24.45 182ZM15 175.75L15 175.75ZM22 151.25L23.17 151.25L23.17 162.62L23.71 162.61L24.22 162.57L24.71 162.5L25.16 162.4L25.6 162.28L26.01 162.12L26.39 161.94L26.74 161.74L27.07 161.5L27.38 161.23L27.65 160.94L27.9 160.63L28.12 160.29L28.31 159.93L28.46 159.55L28.6 159.15L28.7 158.73L28.77 158.28L28.81 157.82L28.83 157.33L28.82 157.04L28.81 156.75L28.79 156.47L28.77 156.18L28.73 155.9L28.69 155.62L28.64 155.35L28.59 155.07L28.52 154.8L28.45 154.53L28.37 154.26L28.28 153.99L28.19 153.72L28.08 153.45L27.97 153.18L27.86 152.91L27.73 152.64L27.6 152.37L27.46 152.1L27.31 151.83L29.8 151.83L29.91 152.1L30.02 152.37L30.13 152.64L30.23 152.91L30.32 153.19L30.41 153.46L30.49 153.74L30.57 154.02L30.64 154.3L30.7 154.58L30.76 154.86L30.81 155.14L30.85 155.42L30.89 155.7L30.93 155.98L30.95 156.26L30.97 156.55L30.99 156.83L31 157.12L31 157.41L30.98 158.12L30.92 158.8L30.81 159.44L30.66 160.06L30.47 160.65L30.23 161.21L29.96 161.74L29.64 162.24L29.28 162.7L28.88 163.14L28.44 163.54L27.97 163.9L27.47 164.22L26.94 164.49L26.38 164.72L25.79 164.91L25.17 165.06L24.52 165.17L23.85 165.23L23.14 165.25L22.41 165.23L21.71 165.17L21.04 165.07L20.4 164.93L19.79 164.75L19.21 164.53L18.66 164.27L18.15 163.97L17.66 163.63L17.2 163.25L16.78 162.84L16.41 162.39L16.08 161.92L15.79 161.42L15.55 160.9L15.35 160.34L15.2 159.76L15.09 159.15L15.02 158.51L15 157.84L15.02 157.25L15.08 156.68L15.17 156.13L15.3 155.61L15.47 155.12L15.68 154.65L15.93 154.21L16.21 153.79L16.53 153.4L16.89 153.03L17.28 152.69L17.7 152.39L18.14 152.12L18.61 151.89L19.11 151.7L19.63 151.53L20.18 151.41L20.76 151.32L21.37 151.27L22 151.25ZM21 153.75L20.66 153.76L20.33 153.8L20.01 153.85L19.71 153.93L19.43 154.03L19.16 154.16L18.9 154.3L18.66 154.47L18.43 154.66L18.22 154.88L18.02 155.1L17.84 155.35L17.68 155.61L17.55 155.88L17.43 156.17L17.34 156.47L17.27 156.79L17.21 157.12L17.18 157.47L17.17 157.83L17.18 158.24L17.21 158.63L17.26 159.01L17.33 159.37L17.42 159.71L17.53 160.04L17.66 160.35L17.81 160.65L17.98 160.93L18.17 161.19L18.38 161.43L18.61 161.65L18.85 161.84L19.1 162.02L19.38 162.17L19.67 162.31L19.98 162.42L20.3 162.51L20.64 162.58L21 162.62L21 153.75ZM10 138.12L10 135.38L28.62 135.38L28.62 125.56L31 125.56L31 138.12L10 138.12ZM22 110.38L23.17 110.38L23.17 121.75L23.71 121.74L24.22 121.69L24.71 121.62L25.16 121.53L25.6 121.4L26.01 121.25L26.39 121.07L26.74 120.86L27.07 120.62L27.38 120.36L27.65 120.07L27.9 119.75L28.12 119.42L28.31 119.06L28.46 118.68L28.6 118.28L28.7 117.85L28.77 117.41L28.81 116.94L28.83 116.45L28.82 116.16L28.81 115.88L28.79 115.59L28.77 115.31L28.73 115.03L28.69 114.75L28.64 114.47L28.59 114.2L28.52 113.93L28.45 113.66L28.37 113.38L28.28 113.11L28.19 112.84L28.08 112.57L27.97 112.3L27.86 112.03L27.73 111.76L27.6 111.49L27.46 111.22L27.31 110.95L29.8 110.95L29.91 111.22L30.02 111.49L30.13 111.77L30.23 112.04L30.32 112.31L30.41 112.59L30.49 112.87L30.57 113.14L30.64 113.42L30.7 113.7L30.76 113.98L30.81 114.26L30.85 114.54L30.89 114.82L30.93 115.11L30.95 115.39L30.97 115.67L30.99 115.96L31 116.24L31 116.53L30.98 117.24L30.92 117.92L30.81 118.57L30.66 119.19L30.47 119.78L30.23 120.34L29.96 120.86L29.64 121.36L29.28 121.83L28.88 122.27L28.44 122.67L27.97 123.03L27.47 123.34L26.94 123.62L26.38 123.85L25.79 124.04L25.17 124.19L24.52 124.29L23.85 124.35L23.14 124.38L22.41 124.36L21.71 124.3L21.04 124.2L20.4 124.06L19.79 123.88L19.21 123.66L18.66 123.39L18.15 123.1L17.66 122.75L17.2 122.38L16.78 121.96L16.41 121.52L16.08 121.05L15.79 120.55L15.55 120.02L15.35 119.47L15.2 118.89L15.09 118.28L15.02 117.64L15 116.97L15.02 116.37L15.08 115.8L15.17 115.26L15.3 114.74L15.47 114.24L15.68 113.77L15.93 113.33L16.21 112.91L16.53 112.52L16.89 112.16L17.28 111.82L17.7 111.52L18.14 111.25L18.61 111.02L19.11 110.82L19.63 110.66L20.18 110.54L20.76 110.45L21.37 110.39L22 110.38ZM21 112.88L20.66 112.89L20.33 112.92L20.01 112.98L19.71 113.06L19.43 113.16L19.16 113.28L18.9 113.43L18.66 113.59L18.43 113.79L18.22 114L18.02 114.23L17.84 114.47L17.68 114.73L17.55 115L17.43 115.29L17.34 115.6L17.27 115.91L17.21 116.25L17.18 116.59L17.17 116.95L17.18 117.36L17.21 117.76L17.26 118.13L17.33 118.5L17.42 118.84L17.53 119.17L17.66 119.48L17.81 119.77L17.98 120.05L18.17 120.31L18.38 120.55L18.61 120.77L18.85 120.97L19.1 121.14L19.38 121.3L19.67 121.43L19.98 121.54L20.3 121.63L20.64 121.7L21 121.75L21 112.88ZM21.58 93.62L31 93.62L31 96.12L21.61 96.12L21.18 96.13L20.77 96.16L20.38 96.2L20.01 96.26L19.67 96.34L19.35 96.43L19.05 96.54L18.77 96.66L18.51 96.81L18.28 96.97L18.07 97.15L17.88 97.34L17.72 97.55L17.57 97.78L17.45 98.02L17.35 98.28L17.27 98.56L17.22 98.86L17.18 99.17L17.17 99.5L17.19 99.9L17.23 100.28L17.29 100.64L17.39 100.99L17.51 101.32L17.66 101.63L17.83 101.92L18.03 102.2L18.26 102.46L18.52 102.7L18.79 102.93L19.09 103.13L19.4 103.3L19.73 103.45L20.08 103.58L20.45 103.69L20.84 103.77L21.25 103.83L21.68 103.86L22.12 103.88L31 103.88L31 106.38L15 106.38L15 103.88L17.75 103.88L17.48 103.69L17.23 103.5L16.99 103.3L16.76 103.1L16.55 102.89L16.35 102.67L16.16 102.45L15.99 102.23L15.83 101.99L15.69 101.75L15.56 101.5L15.44 101.25L15.34 100.99L15.25 100.72L15.17 100.44L15.11 100.16L15.06 99.87L15.03 99.57L15.01 99.27L15 98.95L15.02 98.44L15.07 97.95L15.15 97.49L15.27 97.05L15.42 96.64L15.6 96.25L15.82 95.89L16.07 95.56L16.35 95.25L16.67 94.97L17.02 94.71L17.4 94.49L17.82 94.28L18.26 94.11L18.73 93.96L19.24 93.84L19.78 93.75L20.35 93.68L20.95 93.64L21.58 93.62ZM23 78.62L22.46 78.64L21.94 78.67L21.45 78.73L20.98 78.81L20.54 78.91L20.12 79.03L19.73 79.18L19.36 79.35L19.02 79.54L18.7 79.75L18.41 79.98L18.15 80.23L17.92 80.5L17.72 80.78L17.55 81.09L17.42 81.41L17.31 81.75L17.23 82.11L17.19 82.48L17.17 82.88L17.19 83.27L17.23 83.65L17.31 84L17.42 84.34L17.55 84.67L17.72 84.97L17.92 85.26L18.15 85.53L18.41 85.78L18.7 86.02L19.02 86.23L19.36 86.42L19.73 86.58L20.12 86.73L20.54 86.85L20.98 86.95L21.45 87.03L21.94 87.08L22.46 87.11L23 87.12L23.54 87.11L24.06 87.08L24.55 87.03L25.02 86.95L25.46 86.85L25.87 86.73L26.27 86.58L26.64 86.42L26.98 86.23L27.3 86.02L27.59 85.78L27.85 85.53L28.08 85.26L28.28 84.97L28.45 84.67L28.58 84.34L28.69 84L28.77 83.65L28.81 83.27L28.83 82.88L28.81 82.48L28.77 82.11L28.69 81.75L28.58 81.41L28.45 81.09L28.28 80.78L28.08 80.5L27.85 80.23L27.59 79.98L27.3 79.75L26.98 79.54L26.64 79.35L26.27 79.18L25.87 79.03L25.46 78.91L25.02 78.81L24.55 78.73L24.06 78.67L23.54 78.64L23 78.62ZM28.97 76.12L29.76 76.14L30.51 76.19L31.22 76.28L31.89 76.4L32.51 76.56L33.1 76.75L33.64 76.97L34.14 77.24L34.6 77.53L35.02 77.86L35.39 78.22L35.73 78.62L36.03 79.06L36.29 79.53L36.5 80.04L36.68 80.58L36.82 81.16L36.92 81.78L36.98 82.43L37 83.12L37 83.39L36.99 83.64L36.98 83.9L36.97 84.15L36.95 84.4L36.92 84.65L36.89 84.89L36.86 85.14L36.82 85.37L36.78 85.61L36.74 85.84L36.69 86.08L36.64 86.31L36.58 86.53L36.52 86.76L36.46 86.99L36.39 87.21L36.32 87.43L36.24 87.66L36.16 87.88L33.62 87.88L33.74 87.66L33.86 87.44L33.96 87.22L34.06 87L34.16 86.79L34.24 86.57L34.33 86.36L34.4 86.15L34.47 85.93L34.53 85.72L34.59 85.5L34.64 85.29L34.68 85.07L34.72 84.85L34.75 84.63L34.78 84.41L34.8 84.19L34.82 83.97L34.83 83.75L34.83 83.53L34.81 83.05L34.78 82.59L34.71 82.16L34.62 81.76L34.5 81.38L34.35 81.02L34.18 80.69L33.98 80.38L33.75 80.1L33.5 79.84L33.22 79.61L32.92 79.41L32.59 79.22L32.23 79.06L31.84 78.93L31.43 78.82L30.99 78.73L30.52 78.67L30.02 78.64L29.5 78.62L28.23 78.62L28.51 78.79L28.77 78.96L29.01 79.13L29.24 79.32L29.46 79.52L29.66 79.72L29.85 79.93L30.02 80.16L30.18 80.39L30.33 80.62L30.46 80.87L30.57 81.13L30.67 81.39L30.76 81.66L30.83 81.95L30.89 82.24L30.94 82.55L30.97 82.86L30.99 83.18L31 83.52L30.98 84.06L30.91 84.59L30.8 85.1L30.65 85.58L30.45 86.04L30.21 86.48L29.93 86.9L29.6 87.3L29.23 87.68L28.81 88.03L28.36 88.36L27.88 88.65L27.37 88.91L26.84 89.13L26.27 89.32L25.68 89.47L25.05 89.6L24.4 89.68L23.72 89.73L23.02 89.75L22.31 89.73L21.62 89.68L20.97 89.6L20.35 89.48L19.75 89.32L19.18 89.13L18.64 88.91L18.14 88.65L17.66 88.36L17.2 88.03L16.78 87.68L16.41 87.3L16.08 86.9L15.79 86.48L15.55 86.04L15.35 85.58L15.2 85.1L15.09 84.59L15.02 84.06L15 83.52L15.01 83.18L15.03 82.86L15.06 82.55L15.11 82.24L15.18 81.95L15.25 81.66L15.34 81.39L15.45 81.13L15.57 80.87L15.7 80.62L15.85 80.39L16.01 80.16L16.18 79.93L16.36 79.72L16.56 79.52L16.78 79.32L17 79.13L17.24 78.95L17.5 78.79L17.77 78.62L15 78.62L15 76.12L28.97 76.12ZM11 68.5L15 68.5L15 63.38L17.17 63.38L17.17 68.5L25.81 68.5L26.19 68.5L26.53 68.48L26.85 68.45L27.14 68.42L27.41 68.38L27.64 68.32L27.85 68.25L28.03 68.18L28.19 68.09L28.31 68L28.42 67.89L28.51 67.75L28.59 67.6L28.66 67.42L28.72 67.23L28.77 67.01L28.81 66.77L28.84 66.52L28.85 66.24L28.86 65.94L28.86 63.38L31 63.38L31 65.92L30.99 66.48L30.96 67.01L30.9 67.49L30.82 67.95L30.72 68.36L30.59 68.74L30.45 69.09L30.28 69.4L30.09 69.67L29.88 69.91L29.63 70.11L29.35 70.3L29.03 70.46L28.68 70.61L28.29 70.73L27.86 70.83L27.4 70.9L26.9 70.96L26.36 70.99L25.78 71L17.17 71L17.17 72.88L15 72.88L15 71L11 71L11 68.5ZM21.58 47.5L31 47.5L31 50L21.61 50L21.18 50.01L20.77 50.03L20.38 50.08L20.01 50.14L19.67 50.21L19.35 50.3L19.05 50.41L18.77 50.54L18.51 50.68L18.28 50.84L18.07 51.02L17.88 51.22L17.72 51.43L17.57 51.65L17.45 51.9L17.35 52.16L17.27 52.44L17.22 52.73L17.18 53.05L17.17 53.38L17.19 53.77L17.23 54.15L17.29 54.52L17.39 54.86L17.51 55.19L17.66 55.5L17.83 55.8L18.03 56.08L18.26 56.34L18.52 56.58L18.79 56.8L19.09 57L19.4 57.18L19.73 57.33L20.08 57.46L20.45 57.56L20.84 57.64L21.25 57.7L21.68 57.74L22.12 57.75L31 57.75L31 60.25L9 60.25L9 57.75L17.75 57.75L17.48 57.57L17.23 57.38L16.99 57.18L16.76 56.98L16.55 56.77L16.35 56.55L16.16 56.33L15.99 56.1L15.83 55.87L15.69 55.62L15.56 55.38L15.44 55.12L15.34 54.86L15.25 54.59L15.17 54.32L15.11 54.03L15.06 53.74L15.03 53.45L15.01 53.14L15 52.83L15.02 52.31L15.07 51.82L15.15 51.36L15.27 50.92L15.42 50.51L15.6 50.13L15.82 49.77L16.07 49.43L16.35 49.13L16.67 48.84L17.02 48.59L17.4 48.36L17.82 48.16L18.26 47.98L18.73 47.84L19.24 47.72L19.78 47.62L20.35 47.55L20.95 47.51L21.58 47.5Z" fill="#000"/>
<path d="M114.5 208.5V223.5M166.5 229.5V241.5M218.5 253.5V263.5M269.5 264.5V272.5M321.5 275.5V281.5M373.5 283.5V288.5" fill="none" stroke="#000000" stroke-width="2.78"/>
<path d="M114.5 47.5V85.5M166.5 152.5V178.5M218.5 192.5V212.5M269.5 229.5V245.5M321.5 250.5V262.5M373.5 265.5V275.5" fill="none" stroke="#ff0000" stroke-width="2.78"/>
<path d="M114.5 75.5V107.5M166.5 161.5V185.5M218.5 212.5V230.5M269.5 239.5V254.5M321.5 262.5V274.5M373.5 276.5V286.5" fill="none" stroke="#800080" stroke-width="2.78"/>
<path d="M114.5 111.5V141.5M166.5 153.5V177.5M218.5 184.5V204.5M269.5 210.5V226.5M321.5 230.5V244.5M373.5 250.5V260.5" fill="none" stroke="#808080" stroke-width="2.78"/>
<path d="M114.49 215L166.15 235L217.82 258L269.49 268L321.15 278L372.82 286" fill="none" stroke="#000000" stroke-width="2.78" stroke-linejoin="round" stroke-linecap="square"/>
<g fill="#000000"><polygon points="120.837,214.825 120.837,216.175 108.837,222.175 107.806,221.5 107.806,209.5 108.837,208.825"/><polygon points="172.837,234.825 172.837,236.175 160.837,242.175 159.806,241.5 159.806,229.5 160.837,228.825"/><polygon points="224.837,257.825 224.837,259.175 212.837,265.175 211.806,264.5 211.806,252.5 212.837,251.825"/><polygon points="275.837,267.825 275.837,269.175 263.837,275.175 262.806,274.5 262.806,262.5 263.837,261.825"/><polygon points="327.837,277.825 327.837,279.175 315.837,285.175 314.806,284.5 314.806,272.5 315.837,271.825"/><polygon points="379.837,285.825 379.837,287.175 367.837,293.175 366.806,292.5 366.806,280.5 367.837,279.825"/></g>
<path d="M114.49 66L166.15 165L217.82 202L269.49 237L321.15 256L372.82 270" fill="none" stroke="#ff0000" stroke-width="2.78" stroke-linejoin="round" stroke-linecap="square"/>
<g fill="#ff0000"><polygon points="107.806,60.5 108.5,59.806 120.5,59.806 121.194,60.5 121.194,72.5 120.5,73.194 108.5,73.194 107.806,72.5"/><polygon points="159.806,159.5 160.5,158.806 172.5,158.806 173.194,159.5 173.194,171.5 172.5,172.194 160.5,172.194 159.806,171.5"/><polygon points="211.806,196.5 212.5,195.806 224.5,195.806 225.194,196.5 225.194,208.5 224.5,209.194 212.5,209.194 211.806,208.5"/><polygon points="262.806,231.5 263.5,230.806 275.5,230.806 276.194,231.5 276.194,243.5 275.5,244.194 263.5,244.194 262.806,243.5"/><polygon points="314.806,250.5 315.5,249.806 327.5,249.806 328.194,250.5 328.194,262.5 327.5,263.194 315.5,263.194 314.806,262.5"/><polygon points="366.806,264.5 367.5,263.806 379.5,263.806 380.194,264.5 380.194,276.5 379.5,277.194 367.5,277.194 366.806,276.5"/></g>
<path d="M114.49 91L166.15 173L217.82 221L269.49 247L321.15 268L372.82 281" fill="none" stroke="#800080" stroke-width="2.78" stroke-linejoin="round" stroke-dasharray="10.28 4.44"/>
<g fill="#800080"><polygon points="113.825,85.163 115.175,85.163 121.175,97.163 120.5,98.194 108.5,98.194 107.825,97.163"/><polygon points="165.825,167.163 167.175,167.163 173.175,179.163 172.5,180.194 160.5,180.194 159.825,179.163"/><polygon points="217.825,215.163 219.175,215.163 225.175,227.163 224.5,228.194 212.5,228.194 211.825,227.163"/><polygon points="268.825,241.163 270.175,241.163 276.175,253.163 275.5,254.194 263.5,254.194 262.825,253.163"/><polygon points="320.825,262.163 322.175,262.163 328.175,274.163 327.5,275.194 315.5,275.194 314.825,274.163"/><polygon points="372.825,275.163 374.175,275.163 380.175,287.163 379.5,288.194 367.5,288.194 366.825,287.163"/></g>
<path d="M114.49 126L166.15 165L217.82 194L269.49 218L321.15 237L372.82 255" fill="none" stroke="#808080" stroke-width="2.78" stroke-linejoin="round" stroke-dasharray="2.78 4.58"/>
<g fill="#808080"><polygon points="121.444,126.5 121.418,127.105 121.339,127.706 121.208,128.297 121.026,128.875 120.794,129.435 120.514,129.972 120.189,130.483 119.82,130.964 119.41,131.41 118.964,131.82 118.483,132.189 117.972,132.514 117.435,132.794 116.875,133.026 116.297,133.208 115.706,133.339 115.105,133.418 114.5,133.444 113.895,133.418 113.294,133.339 112.703,133.208 112.125,133.026 111.565,132.794 111.028,132.514 110.517,132.189 110.036,131.82 109.59,131.41 109.18,130.964 108.811,130.483 108.486,129.972 108.206,129.435 107.974,128.875 107.792,128.297 107.661,127.706 107.582,127.105 107.556,126.5 107.582,125.895 107.661,125.294 107.792,124.703 107.974,124.125 108.206,123.565 108.486,123.028 108.811,122.517 109.18,122.036 109.59,121.59 110.036,121.18 110.517,120.811 111.028,120.486 111.565,120.206 112.125,119.974 112.703,119.792 113.294,119.661 113.895,119.582 114.5,119.556 115.105,119.582 115.706,119.661 116.297,119.792 116.875,119.974 117.435,120.206 117.972,120.486 118.483,120.811 118.964,121.18 119.41,121.59 119.82,122.036 120.189,122.517 120.514,123.028 120.794,123.565 121.026,124.125 121.208,124.703 121.339,125.294 121.418,125.895"/><polygon points="173.444,165.5 173.418,166.105 173.339,166.706 173.208,167.297 173.026,167.875 172.794,168.435 172.514,168.972 172.189,169.483 171.82,169.964 171.41,170.41 170.964,170.82 170.483,171.189 169.972,171.514 169.435,171.794 168.875,172.026 168.297,172.208 167.706,172.339 167.105,172.418 166.5,172.444 165.895,172.418 165.294,172.339 164.703,172.208 164.125,172.026 163.565,171.794 163.028,171.514 162.517,171.189 162.036,170.82 161.59,170.41 161.18,169.964 160.811,169.483 160.486,168.972 160.206,168.435 159.974,167.875 159.792,167.297 159.661,166.706 159.582,166.105 159.556,165.5 159.582,164.895 159.661,164.294 159.792,163.703 159.974,163.125 160.206,162.565 160.486,162.028 160.811,161.517 161.18,161.036 161.59,160.59 162.036,160.18 162.517,159.811 163.028,159.486 163.565,159.206 164.125,158.974 164.703,158.792 165.294,158.661 165.895,158.582 166.5,158.556 167.105,158.582 167.706,158.661 168.297,158.792 168.875,158.974 169.435,159.206 169.972,159.486 170.483,159.811 170.964,160.18 171.41,160.59 171.82,161.036 172.189,161.517 172.514,162.028 172.794,162.565 173.026,163.125 173.208,163.703 173.339,164.294 173.418,164.895"/><polygon points="225.444,194.5 225.418,195.105 225.339,195.706 225.208,196.297 225.026,196.875 224.794,197.435 224.514,197.972 224.189,198.483 223.82,198.964 223.41,199.41 222.964,199.82 222.483,200.189 221.972,200.514 221.435,200.794 220.875,201.026 220.297,201.208 219.706,201.339 219.105,201.418 218.5,201.444 217.895,201.418 217.294,201.339 216.703,201.208 216.125,201.026 215.565,200.794 215.028,200.514 214.517,200.189 214.036,199.82 213.59,199.41 213.18,198.964 212.811,198.483 212.486,197.972 212.206,197.435 211.974,196.875 211.792,196.297 211.661,195.706 211.582,195.105 211.556,194.5 211.582,193.895 211.661,193.294 211.792,192.703 211.974,192.125 212.206,191.565 212.486,191.028 212.811,190.517 213.18,190.036 213.59,189.59 214.036,189.18 214.517,188.811 215.028,188.486 215.565,188.206 216.125,187.974 216.703,187.792 217.294,187.661 217.895,187.582 218.5,187.556 219.105,187.582 219.706,187.661 220.297,187.792 220.875,187.974 221.435,188.206 221.972,188.486 222.483,188.811 222.964,189.18 223.41,189.59 223.82,190.036 224.189,190.517 224.514,191.028 224.794,191.565 225.026,192.125 225.208,192.703 225.339,193.294 225.418,193.895"/><polygon points="276.444,218.5 276.418,219.105 276.339,219.706 276.208,220.297 276.026,220.875 275.794,221.435 275.514,221.972 275.189,222.483 274.82,222.964 274.41,223.41 273.964,223.82 273.483,224.189 272.972,224.514 272.435,224.794 271.875,225.026 271.297,225.208 270.706,225.339 270.105,225.418 269.5,225.444 268.895,225.418 268.294,225.339 267.703,225.208 267.125,225.026 266.565,224.794 266.028,224.514 265.517,224.189 265.036,223.82 264.59,223.41 264.18,222.964 263.811,222.483 263.486,221.972 263.206,221.435 262.974,220.875 262.792,220.297 262.661,219.706 262.582,219.105 262.556,218.5 262.582,217.895 262.661,217.294 262.792,216.703 262.974,216.125 263.206,215.565 263.486,215.028 263.811,214.517 264.18,214.036 264.59,213.59 265.036,213.18 265.517,212.811 266.028,212.486 266.565,212.206 267.125,211.974 267.703,211.792 268.294,211.661 268.895,211.582 269.5,211.556 270.105,211.582 270.706,211.661 271.297,211.792 271.875,211.974 272.435,212.206 272.972,212.486 273.483,212.811 273.964,213.18 274.41,213.59 274.82,214.036 275.189,214.517 275.514,215.028 275.794,215.565 276.026,216.125 276.208,216.703 276.339,217.294 276.418,217.895"/><polygon points="328.444,237.5 328.418,238.105 328.339,238.706 328.208,239.297 328.026,239.875 327.794,240.435 327.514,240.972 327.189,241.483 326.82,241.964 326.41,242.41 325.964,242.82 325.483,243.189 324.972,243.514 324.435,243.794 323.875,244.026 323.297,244.208 322.706,244.339 322.105,244.418 321.5,244.444 320.895,244.418 320.294,244.339 319.703,244.208 319.125,244.026 318.565,243.794 318.028,243.514 317.517,243.189 317.036,242.82 316.59,242.41 316.18,241.964 315.811,241.483 315.486,240.972 315.206,240.435 314.974,239.875 314.792,239.297 314.661,238.706 314.582,238.105 314.556,237.5 314.582,236.895 314.661,236.294 314.792,235.703 314.974,235.125 315.206,234.565 315.486,234.028 315.811,233.517 316.18,233.036 316.59,232.59 317.036,232.18 317.517,231.811 318.028,231.486 318.565,231.206 319.125,230.974 319.703,230.792 320.294,230.661 320.895,230.582 321.5,230.556 322.105,230.582 322.706,230.661 323.297,230.792 323.875,230.974 324.435,231.206 324.972,231.486 325.483,231.811 325.964,232.18 326.41,232.59 326.82,233.036 327.189,233.517 327.514,234.028 327.794,234.565 328.026,235.125 328.208,235.703 328.339,236.294 328.418,236.895"/><polygon points="380.444,255.5 380.418,256.105 380.339,256.706 380.208,257.297 380.026,257.875 379.794,258.435 379.514,258.972 379.189,259.483 378.82,259.964 378.41,260.41 377.964,260.82 377.483,261.189 376.972,261.514 376.435,261.794 375.875,262.026 375.297,262.208 374.706,262.339 374.105,262.418 373.5,262.444 372.895,262.418 372.294,262.339 371.703,262.208 371.125,262.026 370.565,261.794 370.028,261.514 369.517,261.189 369.036,260.82 368.59,260.41 368.18,259.964 367.811,259.483 367.486,258.972 367.206,258.435 366.974,257.875 366.792,257.297 366.661,256.706 366.582,256.105 366.556,255.5 366.582,254.895 366.661,254.294 366.792,253.703 366.974,253.125 367.206,252.565 367.486,252.028 367.811,251.517 368.18,251.036 368.59,250.59 369.036,250.18 369.517,249.811 370.028,249.486 370.565,249.206 371.125,248.974 371.703,248.792 372.294,248.661 372.895,248.582 373.5,248.556 374.105,248.582 374.706,248.661 375.297,248.792 375.875,248.974 376.435,249.206 376.972,249.486 377.483,249.811 377.964,250.18 378.41,250.59 378.82,251.036 379.189,251.517 379.514,252.028 379.794,252.565 380.026,253.125 380.208,253.703 380.339,254.294 380.418,254.895"/></g>
<g><rect x="88.944" y="20.944" width="1.111" height="309.111" fill="#000"/><rect x="398.944" y="20.944" width="1.111" height="309.111" fill="#000"/><rect x="88.944" y="20.944" width="311.111" height="1.111" fill="#000"/><rect x="88.944" y="328.944" width="311.111" height="1.111" fill="#000"/></g>
</svg>
<div class="sr">
<p>Max Queue Length</p>
<p>25 20 15 10 5 0</p>
<p>30 40 50 60 70 80</p>
<p>X<sub>test</sub> (m)</p>
</div>
</body>
</html>
